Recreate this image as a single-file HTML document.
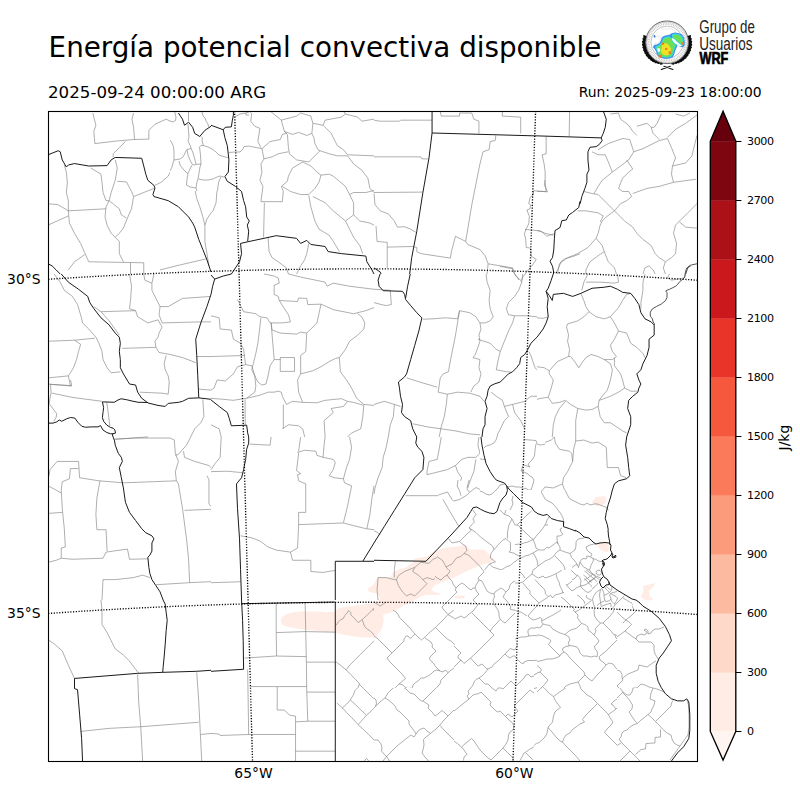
<!DOCTYPE html>
<html><head><meta charset="utf-8"><style>
html,body{margin:0;padding:0;background:#fff;}
svg{display:block;}
text{font-family:"DejaVu Sans","Liberation Sans",sans-serif;fill:#000;}
.cbl{font-size:11.11px;letter-spacing:-0.45px;}
.tk{font-size:13.89px;}
</style></head><body>
<svg width="800" height="800" viewBox="0 0 800 800">
<rect width="800" height="800" fill="#fff"/>
<text x="48.6" y="56.9" style="font-size:27.78px">Energía potencial convectiva disponible</text>
<text x="48" y="97.8" style="font-size:16.67px">2025-09-24 00:00:00 ARG</text>
<text x="761.7" y="97.1" text-anchor="end" class="tk">Run: 2025-09-23 18:00:00</text>
<defs><mask id="dm" maskUnits="userSpaceOnUse" x="0" y="0" width="800" height="800"><rect x="0" y="0" width="800" height="800" fill="#fff"/><rect x="515.0" y="490.0" width="80.0" height="80.0" fill="#000"/><rect x="515.0" y="570.0" width="80.0" height="80.0" fill="#000"/><rect x="435.0" y="570.0" width="80.0" height="80.0" fill="#000"/><rect x="572.0" y="555.0" width="40.0" height="40.0" fill="#000"/><rect x="592.0" y="582.0" width="40.0" height="40.0" fill="#000"/><rect x="537.0" y="610.0" width="80.0" height="80.0" fill="#000"/><rect x="617.0" y="610.0" width="80.0" height="80.0" fill="#000"/><rect x="537.0" y="688.0" width="80.0" height="74.0" fill="#000"/><rect x="617.0" y="688.0" width="80.0" height="74.0" fill="#000"/><rect x="374.0" y="610.0" width="80.0" height="80.0" fill="#000"/><rect x="374.0" y="688.0" width="80.0" height="74.0" fill="#000"/><rect x="454.0" y="645.0" width="80.0" height="80.0" fill="#000"/><rect x="454.0" y="722.0" width="80.0" height="40.0" fill="#000"/><rect x="480.0" y="430.0" width="65.0" height="60.0" fill="#000"/><rect x="480.0" y="490.0" width="35.0" height="20.0" fill="#000"/><rect x="170.0" y="112.0" width="80.0" height="79.0" fill="#000"/><rect x="336.0" y="605.0" width="38.0" height="79.0" fill="#000"/><rect x="336.0" y="684.0" width="38.0" height="78.0" fill="#000"/></mask><mask id="rg0" maskUnits="userSpaceOnUse" x="0" y="0" width="800" height="800"><rect x="515.0" y="490.0" width="80.0" height="80.0" fill="#fff"/><rect x="515.0" y="570.0" width="80.0" height="80.0" fill="#000"/><rect x="435.0" y="570.0" width="80.0" height="80.0" fill="#000"/><rect x="572.0" y="555.0" width="40.0" height="40.0" fill="#000"/><rect x="592.0" y="582.0" width="40.0" height="40.0" fill="#000"/><rect x="537.0" y="610.0" width="80.0" height="80.0" fill="#000"/><rect x="617.0" y="610.0" width="80.0" height="80.0" fill="#000"/><rect x="537.0" y="688.0" width="80.0" height="74.0" fill="#000"/><rect x="617.0" y="688.0" width="80.0" height="74.0" fill="#000"/><rect x="374.0" y="610.0" width="80.0" height="80.0" fill="#000"/><rect x="374.0" y="688.0" width="80.0" height="74.0" fill="#000"/><rect x="454.0" y="645.0" width="80.0" height="80.0" fill="#000"/><rect x="454.0" y="722.0" width="80.0" height="40.0" fill="#000"/><rect x="480.0" y="430.0" width="65.0" height="60.0" fill="#000"/><rect x="480.0" y="490.0" width="35.0" height="20.0" fill="#000"/><rect x="170.0" y="112.0" width="80.0" height="79.0" fill="#000"/><rect x="336.0" y="605.0" width="38.0" height="79.0" fill="#000"/><rect x="336.0" y="684.0" width="38.0" height="78.0" fill="#000"/></mask><mask id="rg1" maskUnits="userSpaceOnUse" x="0" y="0" width="800" height="800"><rect x="515.0" y="570.0" width="80.0" height="80.0" fill="#fff"/><rect x="435.0" y="570.0" width="80.0" height="80.0" fill="#000"/><rect x="572.0" y="555.0" width="40.0" height="40.0" fill="#000"/><rect x="592.0" y="582.0" width="40.0" height="40.0" fill="#000"/><rect x="537.0" y="610.0" width="80.0" height="80.0" fill="#000"/><rect x="617.0" y="610.0" width="80.0" height="80.0" fill="#000"/><rect x="537.0" y="688.0" width="80.0" height="74.0" fill="#000"/><rect x="617.0" y="688.0" width="80.0" height="74.0" fill="#000"/><rect x="374.0" y="610.0" width="80.0" height="80.0" fill="#000"/><rect x="374.0" y="688.0" width="80.0" height="74.0" fill="#000"/><rect x="454.0" y="645.0" width="80.0" height="80.0" fill="#000"/><rect x="454.0" y="722.0" width="80.0" height="40.0" fill="#000"/><rect x="480.0" y="430.0" width="65.0" height="60.0" fill="#000"/><rect x="480.0" y="490.0" width="35.0" height="20.0" fill="#000"/><rect x="170.0" y="112.0" width="80.0" height="79.0" fill="#000"/><rect x="336.0" y="605.0" width="38.0" height="79.0" fill="#000"/><rect x="336.0" y="684.0" width="38.0" height="78.0" fill="#000"/></mask><mask id="rg2" maskUnits="userSpaceOnUse" x="0" y="0" width="800" height="800"><rect x="435.0" y="570.0" width="80.0" height="80.0" fill="#fff"/><rect x="572.0" y="555.0" width="40.0" height="40.0" fill="#000"/><rect x="592.0" y="582.0" width="40.0" height="40.0" fill="#000"/><rect x="537.0" y="610.0" width="80.0" height="80.0" fill="#000"/><rect x="617.0" y="610.0" width="80.0" height="80.0" fill="#000"/><rect x="537.0" y="688.0" width="80.0" height="74.0" fill="#000"/><rect x="617.0" y="688.0" width="80.0" height="74.0" fill="#000"/><rect x="374.0" y="610.0" width="80.0" height="80.0" fill="#000"/><rect x="374.0" y="688.0" width="80.0" height="74.0" fill="#000"/><rect x="454.0" y="645.0" width="80.0" height="80.0" fill="#000"/><rect x="454.0" y="722.0" width="80.0" height="40.0" fill="#000"/><rect x="480.0" y="430.0" width="65.0" height="60.0" fill="#000"/><rect x="480.0" y="490.0" width="35.0" height="20.0" fill="#000"/><rect x="170.0" y="112.0" width="80.0" height="79.0" fill="#000"/><rect x="336.0" y="605.0" width="38.0" height="79.0" fill="#000"/><rect x="336.0" y="684.0" width="38.0" height="78.0" fill="#000"/></mask><mask id="rg3" maskUnits="userSpaceOnUse" x="0" y="0" width="800" height="800"><rect x="572.0" y="555.0" width="40.0" height="40.0" fill="#fff"/><rect x="592.0" y="582.0" width="40.0" height="40.0" fill="#000"/><rect x="537.0" y="610.0" width="80.0" height="80.0" fill="#000"/><rect x="617.0" y="610.0" width="80.0" height="80.0" fill="#000"/><rect x="537.0" y="688.0" width="80.0" height="74.0" fill="#000"/><rect x="617.0" y="688.0" width="80.0" height="74.0" fill="#000"/><rect x="374.0" y="610.0" width="80.0" height="80.0" fill="#000"/><rect x="374.0" y="688.0" width="80.0" height="74.0" fill="#000"/><rect x="454.0" y="645.0" width="80.0" height="80.0" fill="#000"/><rect x="454.0" y="722.0" width="80.0" height="40.0" fill="#000"/><rect x="480.0" y="430.0" width="65.0" height="60.0" fill="#000"/><rect x="480.0" y="490.0" width="35.0" height="20.0" fill="#000"/><rect x="170.0" y="112.0" width="80.0" height="79.0" fill="#000"/><rect x="336.0" y="605.0" width="38.0" height="79.0" fill="#000"/><rect x="336.0" y="684.0" width="38.0" height="78.0" fill="#000"/></mask><mask id="rg4" maskUnits="userSpaceOnUse" x="0" y="0" width="800" height="800"><rect x="592.0" y="582.0" width="40.0" height="40.0" fill="#fff"/><rect x="537.0" y="610.0" width="80.0" height="80.0" fill="#000"/><rect x="617.0" y="610.0" width="80.0" height="80.0" fill="#000"/><rect x="537.0" y="688.0" width="80.0" height="74.0" fill="#000"/><rect x="617.0" y="688.0" width="80.0" height="74.0" fill="#000"/><rect x="374.0" y="610.0" width="80.0" height="80.0" fill="#000"/><rect x="374.0" y="688.0" width="80.0" height="74.0" fill="#000"/><rect x="454.0" y="645.0" width="80.0" height="80.0" fill="#000"/><rect x="454.0" y="722.0" width="80.0" height="40.0" fill="#000"/><rect x="480.0" y="430.0" width="65.0" height="60.0" fill="#000"/><rect x="480.0" y="490.0" width="35.0" height="20.0" fill="#000"/><rect x="170.0" y="112.0" width="80.0" height="79.0" fill="#000"/><rect x="336.0" y="605.0" width="38.0" height="79.0" fill="#000"/><rect x="336.0" y="684.0" width="38.0" height="78.0" fill="#000"/></mask><mask id="rg5" maskUnits="userSpaceOnUse" x="0" y="0" width="800" height="800"><rect x="537.0" y="610.0" width="80.0" height="80.0" fill="#fff"/><rect x="617.0" y="610.0" width="80.0" height="80.0" fill="#000"/><rect x="537.0" y="688.0" width="80.0" height="74.0" fill="#000"/><rect x="617.0" y="688.0" width="80.0" height="74.0" fill="#000"/><rect x="374.0" y="610.0" width="80.0" height="80.0" fill="#000"/><rect x="374.0" y="688.0" width="80.0" height="74.0" fill="#000"/><rect x="454.0" y="645.0" width="80.0" height="80.0" fill="#000"/><rect x="454.0" y="722.0" width="80.0" height="40.0" fill="#000"/><rect x="480.0" y="430.0" width="65.0" height="60.0" fill="#000"/><rect x="480.0" y="490.0" width="35.0" height="20.0" fill="#000"/><rect x="170.0" y="112.0" width="80.0" height="79.0" fill="#000"/><rect x="336.0" y="605.0" width="38.0" height="79.0" fill="#000"/><rect x="336.0" y="684.0" width="38.0" height="78.0" fill="#000"/></mask><mask id="rg6" maskUnits="userSpaceOnUse" x="0" y="0" width="800" height="800"><rect x="617.0" y="610.0" width="80.0" height="80.0" fill="#fff"/><rect x="537.0" y="688.0" width="80.0" height="74.0" fill="#000"/><rect x="617.0" y="688.0" width="80.0" height="74.0" fill="#000"/><rect x="374.0" y="610.0" width="80.0" height="80.0" fill="#000"/><rect x="374.0" y="688.0" width="80.0" height="74.0" fill="#000"/><rect x="454.0" y="645.0" width="80.0" height="80.0" fill="#000"/><rect x="454.0" y="722.0" width="80.0" height="40.0" fill="#000"/><rect x="480.0" y="430.0" width="65.0" height="60.0" fill="#000"/><rect x="480.0" y="490.0" width="35.0" height="20.0" fill="#000"/><rect x="170.0" y="112.0" width="80.0" height="79.0" fill="#000"/><rect x="336.0" y="605.0" width="38.0" height="79.0" fill="#000"/><rect x="336.0" y="684.0" width="38.0" height="78.0" fill="#000"/></mask><mask id="rg7" maskUnits="userSpaceOnUse" x="0" y="0" width="800" height="800"><rect x="537.0" y="688.0" width="80.0" height="74.0" fill="#fff"/><rect x="617.0" y="688.0" width="80.0" height="74.0" fill="#000"/><rect x="374.0" y="610.0" width="80.0" height="80.0" fill="#000"/><rect x="374.0" y="688.0" width="80.0" height="74.0" fill="#000"/><rect x="454.0" y="645.0" width="80.0" height="80.0" fill="#000"/><rect x="454.0" y="722.0" width="80.0" height="40.0" fill="#000"/><rect x="480.0" y="430.0" width="65.0" height="60.0" fill="#000"/><rect x="480.0" y="490.0" width="35.0" height="20.0" fill="#000"/><rect x="170.0" y="112.0" width="80.0" height="79.0" fill="#000"/><rect x="336.0" y="605.0" width="38.0" height="79.0" fill="#000"/><rect x="336.0" y="684.0" width="38.0" height="78.0" fill="#000"/></mask><mask id="rg8" maskUnits="userSpaceOnUse" x="0" y="0" width="800" height="800"><rect x="617.0" y="688.0" width="80.0" height="74.0" fill="#fff"/><rect x="374.0" y="610.0" width="80.0" height="80.0" fill="#000"/><rect x="374.0" y="688.0" width="80.0" height="74.0" fill="#000"/><rect x="454.0" y="645.0" width="80.0" height="80.0" fill="#000"/><rect x="454.0" y="722.0" width="80.0" height="40.0" fill="#000"/><rect x="480.0" y="430.0" width="65.0" height="60.0" fill="#000"/><rect x="480.0" y="490.0" width="35.0" height="20.0" fill="#000"/><rect x="170.0" y="112.0" width="80.0" height="79.0" fill="#000"/><rect x="336.0" y="605.0" width="38.0" height="79.0" fill="#000"/><rect x="336.0" y="684.0" width="38.0" height="78.0" fill="#000"/></mask><mask id="rg9" maskUnits="userSpaceOnUse" x="0" y="0" width="800" height="800"><rect x="374.0" y="610.0" width="80.0" height="80.0" fill="#fff"/><rect x="374.0" y="688.0" width="80.0" height="74.0" fill="#000"/><rect x="454.0" y="645.0" width="80.0" height="80.0" fill="#000"/><rect x="454.0" y="722.0" width="80.0" height="40.0" fill="#000"/><rect x="480.0" y="430.0" width="65.0" height="60.0" fill="#000"/><rect x="480.0" y="490.0" width="35.0" height="20.0" fill="#000"/><rect x="170.0" y="112.0" width="80.0" height="79.0" fill="#000"/><rect x="336.0" y="605.0" width="38.0" height="79.0" fill="#000"/><rect x="336.0" y="684.0" width="38.0" height="78.0" fill="#000"/></mask><mask id="rg10" maskUnits="userSpaceOnUse" x="0" y="0" width="800" height="800"><rect x="374.0" y="688.0" width="80.0" height="74.0" fill="#fff"/><rect x="454.0" y="645.0" width="80.0" height="80.0" fill="#000"/><rect x="454.0" y="722.0" width="80.0" height="40.0" fill="#000"/><rect x="480.0" y="430.0" width="65.0" height="60.0" fill="#000"/><rect x="480.0" y="490.0" width="35.0" height="20.0" fill="#000"/><rect x="170.0" y="112.0" width="80.0" height="79.0" fill="#000"/><rect x="336.0" y="605.0" width="38.0" height="79.0" fill="#000"/><rect x="336.0" y="684.0" width="38.0" height="78.0" fill="#000"/></mask><mask id="rg11" maskUnits="userSpaceOnUse" x="0" y="0" width="800" height="800"><rect x="454.0" y="645.0" width="80.0" height="80.0" fill="#fff"/><rect x="454.0" y="722.0" width="80.0" height="40.0" fill="#000"/><rect x="480.0" y="430.0" width="65.0" height="60.0" fill="#000"/><rect x="480.0" y="490.0" width="35.0" height="20.0" fill="#000"/><rect x="170.0" y="112.0" width="80.0" height="79.0" fill="#000"/><rect x="336.0" y="605.0" width="38.0" height="79.0" fill="#000"/><rect x="336.0" y="684.0" width="38.0" height="78.0" fill="#000"/></mask><mask id="rg12" maskUnits="userSpaceOnUse" x="0" y="0" width="800" height="800"><rect x="454.0" y="722.0" width="80.0" height="40.0" fill="#fff"/><rect x="480.0" y="430.0" width="65.0" height="60.0" fill="#000"/><rect x="480.0" y="490.0" width="35.0" height="20.0" fill="#000"/><rect x="170.0" y="112.0" width="80.0" height="79.0" fill="#000"/><rect x="336.0" y="605.0" width="38.0" height="79.0" fill="#000"/><rect x="336.0" y="684.0" width="38.0" height="78.0" fill="#000"/></mask><mask id="rg13" maskUnits="userSpaceOnUse" x="0" y="0" width="800" height="800"><rect x="480.0" y="430.0" width="65.0" height="60.0" fill="#fff"/><rect x="480.0" y="490.0" width="35.0" height="20.0" fill="#000"/><rect x="170.0" y="112.0" width="80.0" height="79.0" fill="#000"/><rect x="336.0" y="605.0" width="38.0" height="79.0" fill="#000"/><rect x="336.0" y="684.0" width="38.0" height="78.0" fill="#000"/></mask><mask id="rg14" maskUnits="userSpaceOnUse" x="0" y="0" width="800" height="800"><rect x="480.0" y="490.0" width="35.0" height="20.0" fill="#fff"/><rect x="170.0" y="112.0" width="80.0" height="79.0" fill="#000"/><rect x="336.0" y="605.0" width="38.0" height="79.0" fill="#000"/><rect x="336.0" y="684.0" width="38.0" height="78.0" fill="#000"/></mask><mask id="rg15" maskUnits="userSpaceOnUse" x="0" y="0" width="800" height="800"><rect x="170.0" y="112.0" width="80.0" height="79.0" fill="#fff"/><rect x="336.0" y="605.0" width="38.0" height="79.0" fill="#000"/><rect x="336.0" y="684.0" width="38.0" height="78.0" fill="#000"/></mask><mask id="rg16" maskUnits="userSpaceOnUse" x="0" y="0" width="800" height="800"><rect x="336.0" y="605.0" width="38.0" height="79.0" fill="#fff"/><rect x="336.0" y="684.0" width="38.0" height="78.0" fill="#000"/></mask><mask id="rg17" maskUnits="userSpaceOnUse" x="0" y="0" width="800" height="800"><rect x="336.0" y="684.0" width="38.0" height="78.0" fill="#fff"/></mask><clipPath id="ax"><rect x="48.5" y="111.5" width="649.0" height="650.0"/></clipPath></defs>
<g clip-path="url(#ax)">
<path d="M280.6,622.1 L281.4,618 L286.2,613.9 L292.7,612.3 L302.5,611.5 L318.7,611.5 L325.2,612.3 L335,611.5 L338.2,608.2 L348,606.6 L361,605 L370.7,603.4 L377.2,602.6 L380.5,598.5 L377.2,593.6 L369.1,592 L367.5,588.7 L374,583.9 L377.2,577.4 L390,577.4 L393.2,572.2 L399.7,569 L406.2,567.4 L412.7,562.5 L414.4,558.4 L425.7,556.8 L435.5,551.1 L443.6,547.9 L459.9,546.2 L464.7,544.6 L469.6,549.5 L484.2,549.5 L489.1,554.4 L494,559.2 L490.7,562.5 L484.2,564.1 L477.7,566.6 L468,570.6 L458.2,575.5 L451.7,578.7 L442,582 L433.9,586.1 L431.4,590.1 L435.5,592.6 L440.4,593.4 L438.7,595 L425.7,595 L420.9,596.6 L414.4,599.9 L406.2,603.9 L399.7,608 L393.2,611.2 L390,612.9 L382.9,614.7 L383.7,621.2 L382.1,627.7 L380.5,631 L375.6,637.5 L361,637.5 L351.2,635.9 L341.5,634.2 L335,632.6 L318.7,631 L302.5,629.4 L291.1,627.7 L283,625.3Z M455,595.8 L464.7,595.6 L464.7,598.4 L455,598.4Z M592,502.2 L596.1,497.1 L605.3,496.1 L606.3,502.2 L602.2,505.3 L596.1,506.3Z M597.1,540.9 L606.3,541.9 L609.3,547 L608.3,552.1 L602.2,551.1 L598.1,547Z M643,586 L655,583 L654,586 L649,591 L649.5,596 L653,599 L651,600.5 L645,600 L641,597 L642,594 L643.5,591Z" fill="#ffede5" stroke="none"/>
<path d="M92.82,113.04 L93.84,117.11 L95.88,125.26 L93.84,131.37 L94.86,143.6 M94.86,143.6 L115.24,141.15 L133.57,139.52 L148.86,139.12 M133.57,113.04 L131.94,119.15 L133.57,127.3 L134.59,139.52 M148.86,139.12 L148.86,130.36 L154.97,124.24 L166.17,119.15 L170.25,121.19 L176.36,119.15 L174.32,113.04 M125.42,141.56 L119.31,147.67 L113.2,153.79 L113.2,157.45 M170.25,121.19 L172.29,131.37 L170.25,137.49 L172.29,145.64 L173.31,151.75 L174.32,159.9 L172.29,168.05 L168.21,176.2 L161.08,182.31 L154.97,185.37 M174.32,159.9 L180.44,158.88 L186.55,151.75 L190.62,148.69 M178.4,160.92 L182.47,168.05 L186.55,172.12 L190.62,170.09 M188.59,123.22 L190.62,137.49 L191.64,147.67 L193.68,155.82 L194.7,166.01 M198.77,137.49 L199.79,145.64 L200.81,147.67 L211,145.64 M194.7,166.01 L200.81,164.99 L199.79,172.12 L197.76,180.27 L202.85,178.24 L211,181.29 M188.59,174.16 L187.57,186.39 L194.7,188.42 L196.74,180.27 M194.7,188.42 L196.74,198.61 L199.79,206.76 L202.85,216.95 L204.89,225.1 L204.89,241.4 L208.96,265.85 M211,212.87 L206.92,218.99 L204.89,225.1 M90.79,168.05 L100.97,174.16 L101.99,182.31 L103.01,192.5 L106.07,200.65 L109.12,200.65 M115.24,159.9 L117.27,168.05 L115.24,180.27 L111.16,192.5 L109.12,200.65 L106.07,206.76 L105.05,216.95 L107.09,225.1 L111.16,233.25 L115.24,237.32 L119.31,241.4 L119.31,253.62 L123.39,261.77 M117.27,181.29 L126.44,181.9 L131.54,191.48 L133.57,196.57 L131.54,208.8 L127.46,217.97 L123.39,228.16 L119.31,233.25 L115.24,237.32 M133.57,196.57 L153.95,188.42 M109.12,200.65 L119.31,208.8 L121.35,214.91 L126.44,217.97 M64.3,164.99 L66.34,172.12 L67.36,182.31 L66.34,192.5 L68.37,200.65 L68.37,210.84 L69.39,223.06 L74.49,233.25 L80.6,243.44 L88.75,261.77 L143.76,262.79 M68.37,210.84 L106.07,208.8 M48,203.71 L58.19,204.72 L68.37,210.84 M48,225.1 L68.37,215.93 M84.67,254.64 L74.49,261.77 L68.37,269.92 M130.52,262.79 L130.52,274 M143.76,262.79 L143.76,274 M160.06,269.92 L180.44,264.83 L206.92,258.72 M233.41,115.07 L241.56,114.06 L249.71,113.04 L251.75,111 M251.75,113.04 L250.73,121.19 L254.81,126.28 L259.9,128.32 L257.86,141.56 L260.92,147.67 M270.09,111 L281.29,120.17 L284.35,131.37 L287.41,134.43 L288.42,147.67 L289.44,153.79 L296.57,159.9 L308.8,161.94 M281.29,120.17 L296.57,116.09 L300.65,113.04 L310.84,116.09 L312.87,123.22 L311.86,133.41 L313.89,137.49 L314.91,143.6 L317.97,149.71 L320.01,150.73 M284.35,131.37 L292.5,134.43 L298.61,132.39 L306.76,135.45 L311.86,133.41 M312.87,123.22 L323.06,125.26 L325.1,120.17 L341.4,117.11 L345.47,114.06 L343.44,111 M345.47,114.06 L357.7,117.11 L361.77,121.19 L374,119.15 M323.06,125.26 L331.21,133.41 L337.32,145.64 L343.44,149.71 L347.51,154.81 L374,155.82 M229.34,151.75 L243.6,146.66 L251.75,146.66 L261.94,148.69 L270.09,141.56 L280.27,139.52 L282.31,134.43 L286.39,133.41 M261.94,148.69 L263.97,158.88 L272.12,156.84 L278.24,153.79 L288.42,151.75 M263.97,158.88 L260.92,163.97 L261.94,172.12 L259.9,180.27 L262.96,186.39 L260.92,201.67 L282.31,201.67 L283.33,191.48 L281.29,186.39 L287.41,181.29 L288.42,176.2 L292.5,168.05 L302.69,161.94 L310.84,166.01 L316.95,172.12 L321.02,175.18 L318.99,182.31 L314.91,188.42 L308.8,194.54 L300.65,194.54 L290.46,191.48 L282.31,186.39 M308.8,161.94 L320.01,150.73 L329.17,153.79 L337.32,155.82 L347.51,155.82 M321.02,175.18 L329.17,174.16 L333.25,176.2 L339.36,181.29 L345.47,186.39 L349.55,194.54 L353.62,192.5 L365.85,192.5 L374,190.46 M347.51,155.82 L353.62,163.97 L361.77,170.09 L367.89,178.24 L369.92,188.42 L374,192.5 M349.55,194.54 L353.62,202.69 L353.62,214.91 L359.74,221.02 L369.92,223.06 L374,225.1 M353.62,214.91 L345.47,221.02 M308.8,195.56 L310.84,206.76 L314.91,221.02 L318.99,229.17 L329.17,235.29 L333.25,241.4 L339.36,251.59 M312.87,196.57 L325.1,202.69 L333.25,210.84 L345.47,221.02 L349.55,229.17 L353.62,237.32 L359.74,245.47 L362.79,253.62 M268.05,237.32 L269.07,251.59 L272.12,257.7 L278.24,261.77 L286.39,267.89 L288.42,274 M308.8,243.44 L306.76,253.62 L304.72,259.74 L300.65,265.85 L296.57,274 M264.38,202.69 L263.57,237.32 M211,148.69 L219.15,152.77 L228.93,157.86 M211,180.27 L217.11,178.24 L224.85,176.61 M219.15,178.24 L217.11,188.42 L216.09,202.69 L213.04,210.84 L211,212.87 M374,120.17 L380.11,121.19 L399.47,121.19 L400.49,120.17 L432.07,120.17 M440.22,111 L441.24,116.09 L459.57,116.09 L459.57,113.04 L471.8,113.04 L473.84,119.15 L478.93,121.19 L478.93,133.41 M502.36,111 L502.36,116.09 L520.7,117.11 L520.7,133.41 M374,156.84 L420.86,156.84 L421.88,158.88 L427.99,158.88 M374,192.5 L422.9,192.09 M374,193.52 L375.02,204.72 L380.11,210.84 L388.26,213.89 L394.37,221.02 L397.43,227.14 L404.56,226.73 L410.67,229.17 L415.77,232.23 M376.04,226.12 L377.06,241.4 L387.24,242.42 L387.24,267.89 M387.24,247.1 L412.71,246.49 L416.79,247.51 L416.79,251.59 L420.86,253.62 L450.41,258.11 L451.42,251.59 L455.5,236.31 L465.69,241.4 L467.72,244.46 L479.95,249.55 L485.04,255.66 L488.1,263.81 L500.32,265.85 L512.55,267.89 L514.59,274 M465.69,241.4 L471.8,204.72 L479.95,163.97 L483.01,151.75 L489.12,149.71 L490.14,141.56 L495.23,140.54 L495.84,135.45 M488.1,263.81 L487.08,274 M545,180 L544.38,185 L547.5,191.88 L533.75,190.62 L533.12,195 L530,197.5 L528.75,203.75 L530.62,205 L530,208.75 L526.88,210 L529.38,216.25 L528.75,223.75 L526.25,228.75 L524.38,233.75 L525.62,238.75 L526.25,247.5 L530.62,248.12 L531.25,256.25 L536.25,259.38 L532.5,265 L528.12,270 L522.5,277.5 L521.88,280 M525,229.38 L532.5,230 L541.25,231.25 L546.88,236.25 L550,235 L554.38,233.75 M580,253.75 L573.75,256.25 L565,258.75 L561.25,261.25 L558.75,267.5 L556.25,272.5 M500,266.25 L512.5,268.75 L513.75,272.5 L517.5,277.5 L518.75,280 M569.6,111 L569.19,136.47 M546.17,136.47 L546.17,153.79 L542.09,154.81 L544.13,163.97 L545.15,172.12 L545.15,182.31 L546.17,191.48 L537,191.48 M610.35,114.06 L618.5,113.04 L620.54,119.15 L628.69,125.26 L632.76,131.37 L636.84,135.45 M636.84,126.28 L647.02,123.22 L651.1,127.3 L654.16,127.3 L657.21,123.22 L661.29,114.06 M651.1,127.3 L653.14,133.41 L657.21,137.49 L659.25,139.52 M675.55,114.06 L683.7,116.09 L689.81,113.04 M667.4,137.49 L675.55,129.34 L685.74,123.22 L696.94,115.07 M592.01,151.75 L598.12,154.81 L605.26,154.81 L608.31,161.94 L612.39,172.12 L602.2,180.27 L598.12,186.39 L594.05,193.52 M598.12,149.71 L608.31,143.6 L622.57,138.51 L629.71,139.52 L633.78,151.75 L642.95,148.69 L659.25,140.54 L667.4,138.51 L671.47,147.67 L675.55,157.86 L672.49,166.01 L671.47,174.16 L673.51,182.31 M633.78,151.75 L628.69,159.9 L620.54,166.01 L612.39,172.12 M626.65,159.9 L632.76,169.07 L628.69,172.12 L622.57,178.24 L618.5,188.42 L622.57,191.48 L628.69,191.48 L631.74,196.57 L626.65,200.65 L620.54,203.71 L614.42,210.84 L606.27,216.95 L602.2,221.02 L600.16,225.1 L598.12,233.25 L596.09,238.34 L587.94,247.51 L577.75,253.62 L567.56,257.7 L559.41,263.81 L557.37,274 M632.76,193.52 L647.02,188.42 L659.25,186.39 L673.51,182.31 L695.92,179.26 M583.86,191.48 L592.01,193.52 L598.12,194.54 L606.27,202.69 L614.42,210.84 L624.61,221.02 L632.76,227.14 L636.84,233.25 L642.95,239.36 L651.1,245.47 L655.17,253.62 L659.25,257.7 L665.36,261.77 L663.32,267.89 L665.36,274 M577.75,210.84 L585.9,210.84 L598.12,212.87 L603.22,215.93 L600.16,222.04 M672.49,166.01 L685.74,162.96 L691.85,155.82 L694.91,143.6 L696.94,135.45 M696.94,203.71 L687.77,212.87 L679.62,221.02 L675.55,225.1 L673.51,233.25 L676.57,243.44 L675.55,253.62 L671.47,257.7 L665.36,261.77 M679.62,222.04 L685.74,227.14 L696.94,228.16 M596.09,238.34 L602.2,245.47 L604.24,251.59 L598.12,255.66 L589.97,261.77 L585.9,269.92 L585.9,274 M604.24,251.59 L608.31,261.77 L614.42,267.89 L616.46,274 M537,230.19 L545.15,233.25 L553.3,235.29 M642.95,274 L644.99,267.89 L649.06,265.85 L653.14,269.92 L655.17,274 M54.11,274 L60.22,282.15 L64.3,290.3 L72.45,296.41 L77.54,304.56 L80.6,314.75 L82.64,322.9 L88.75,329.01 L95.88,337.16 L98.94,343.27 L101.99,351.42 L103.01,359.57 L107.09,367.72 L111.16,372.82 L120.33,371.8 M93.84,306.6 L100.97,311.69 L109.12,320.86 L119.31,335.12 M100.97,311.69 L135.61,310.67 L137.65,316.79 L147.84,322.9 L158.02,319.84 L162.1,326.97 L159.04,333.09 L158.02,337.16 L154.97,341.24 L155.99,347.35 L159.04,352.44 L170.25,354.48 L182.47,357.54 L195.72,362.63 M129.5,274 L131.54,286.22 L130.52,300.49 L129.5,308.64 L135.61,310.67 M143.76,274 L144.78,280.11 L151.91,283.17 L153.95,274 M151.91,283.17 L151.91,290.3 L155.99,298.45 L160.06,306.6 L159.04,314.75 L162.1,322.9 L200.81,321.88 L211,321.88 M160.06,306.6 L168.21,306.6 L182.47,298.45 L211,296.41 M48,341.24 L74.49,340.22 L94.86,338.18 M74.49,340.22 L80.6,344.29 L78.56,351.42 L76.52,359.57 L73.47,367.72 L68.37,375.87 L70.41,386.06 M48,377.91 L68.37,375.87 M48,384.02 L60.22,385.04 L71.43,386.06 M122.37,348.37 L155.99,347.35 M166.17,355.5 L164.14,363.65 L165.16,369.76 L168.21,375.87 L169.23,381.99 L168.21,394.21 L162.1,393.19 L139.69,392.17 M196.74,356.52 L211,356.52 M198.77,389.12 L211,390.14 M202.85,399.31 L203.87,416.62 L200.81,422.74 L194.7,428.85 L190.62,437 M49.88,384.38 L71.75,385.62 L70.5,380 M50.5,385 L51.12,392.5 L49.88,398.75 L49.25,403.75 M51.75,393.12 L73,397.5 L101.75,401.25 M49.25,403.75 L53,408.75 L56.75,413.75 L56.12,417.5 L53.62,421.25 M106.75,402.5 L108,411.25 L109.25,421.25 L109.88,426.25 M114.25,439.38 L123,438.75 L148,436.88 M263.97,274 L274.16,276.04 L278.24,278.07 L279.26,283.17 L274.16,285.21 L274.16,294.37 L278.24,296.41 L279.26,300.49 L284.35,308.64 L288.42,314.75 L290.46,321.88 L282.31,322.9 L270.09,322.9 L267.03,317.81 L259.9,316.79 L255.82,313.73 L243.6,311.69 L239.52,303.54 L237.49,299.47 M288.42,274 L300.65,277.06 L325.1,282.15 L327.14,286.22 L333.25,283.17 L349.55,286.22 L374,289.28 M279.26,300.49 L297.59,301.51 L298.61,298.04 L306.76,298.45 L307.78,304.56 L321.02,304.15 L333.25,309.66 L353.62,313.73 L365.85,310.67 L374,307.62 M321.02,304.15 L316.95,322.9 L310.84,329.01 L306.76,333.09 L300.65,332.07 L296.57,334.11 L280.27,333.09 L272.12,330.03 L271.11,322.9 M271.11,322.9 L272.12,335.12 L274.16,359.57 L270.09,365.69 L268.05,375.87 L266.01,384.02 L261.94,385.04 L257.86,381.99 L254.81,375.87 L251.75,369.76 L253.79,361.61 L255.82,353.46 L257.86,343.27 L258.88,335.12 L260.92,317.81 M306.76,333.09 L305.74,351.42 L300.65,355.5 L300.65,373.84 L297.59,379.95 L298.61,392.17 L302.69,402.36 L292.5,401.34 L286.39,404.4 L282.31,396.25 L281.29,392.17 L278.24,391.16 L274.16,392.17 L268.05,392.17 L259.9,395.23 L246.66,398.29 M300.65,373.84 L312.87,370.78 L321.02,366.71 L329.17,361.61 L335.29,358.56 L339.36,357.54 L345.47,349.39 L349.55,341.24 L357.7,335.12 L363.81,329.01 L364.83,322.9 L361.77,316.79 L357.7,313.73 M339.36,357.54 L340.38,371.8 L346.49,379.95 L351.59,388.1 L356.68,398.29 L363.81,404.4 L374,405.42 M302.69,402.36 L316.95,402.77 L325.1,400.32 L341.4,398.69 L347.51,401.34 L353.62,402.36 L363.81,405.42 L362.79,416.62 L360.76,428.85 L351.59,432.92 L347.51,437 M280.27,357.54 L294.54,357.54 L294.54,371.39 L280.27,371.39 L280.27,357.54 M274.16,359.57 L280.27,359.57 M211,315.77 L219.15,317.81 L220.17,329.01 L231.37,330.03 L233.41,339.2 L240.54,343.27 L243.6,349.39 L244.62,357.54 L245.64,364.67 M211,356.52 L244.62,355.5 M245.64,364.67 L237.49,366.71 L233.41,373.84 L225.26,380.97 L217.11,379.95 L214.06,388.1 L211,390.14 M245.64,364.67 L251.75,365.69 L254.81,375.87 L255.82,386.06 L254.81,392.17 L246.66,398.29 L243.6,398.69 M211,398.29 L223.22,399.31 L233.41,400.32 L243.6,398.69 M245.03,399.31 L245.23,424.77 M283.33,404.4 L283.33,428.85 M282.31,428.85 L288.42,424.77 L298.61,425.79 L302.69,428.85 L304.72,437 M325.1,437 L324.08,420.7 L333.25,412.55 L331.21,408.47 L343.44,406.44 L347.51,401.34 M211,424.77 L219.15,428.85 L221.19,437 M374,289.28 L390.3,290.3 L391.32,304.56 L386.22,305.58 L381.13,304.56 L374,302.52 M486.06,274 L487.08,282.15 L490.14,290.3 L489.12,300.49 L490.14,308.64 L493.19,316.79 L490.14,320.86 L485.04,322.9 L479.95,322.9 L475.87,316.79 L469.76,312.71 L459.57,310.67 L457.54,318.82 L445.31,317.81 L433.09,318.82 L422.9,319.23 M459.57,310.67 L455.5,335.12 L451.42,355.5 L448.37,371.8 L443.27,373.84 L440.22,377.91 L438.18,392.17 L447.35,394.21 L457.54,392.17 L469.76,393.19 L479.95,396.25 L484.02,401.34 M479.95,322.9 L480.97,329.01 L478.93,335.12 L479.95,341.24 L477.91,347.35 L474.86,355.5 L472.82,357.54 L479.95,359.57 L478.93,367.72 L480.97,373.84 L478.93,381.99 L473.84,386.06 L470.78,392.17 M477.91,339.2 L490.14,343.27 L496.25,349.39 L500.32,351.42 L504.4,341.24 L508.47,331.05 L512.55,322.9 L514.59,315.77 L508.47,314.75 L506.44,308.64 L508.47,302.52 L514.59,296.41 L518.66,290.3 L521.72,282.15 L522.74,274 M514.59,315.77 L526.81,315.77 L537,316.79 M500.32,351.42 L498.29,359.57 L496.25,369.76 L506.44,371.8 L510.51,371.8 M514.59,274 L516.62,277.06 L520.7,280.11 L521.72,282.15 M528.85,351.42 L530.89,355.5 L532.92,361.61 L534.96,367.72 L537,369.76 M406.6,377.91 L422.9,383.01 L437.16,387.08 M447.35,394.21 L446.33,404.4 L444.29,416.62 L441.24,426.81 L439.2,437 M374,404.4 L384.19,401.34 L394.37,404.4 L400.49,406.44 M394.37,404.4 L393.36,416.62 L390.3,424.77 L388.26,437 M412.71,423.76 L426.97,426.81 L441.24,428.85 L455.5,430.89 L469.76,433.94 L481.99,434.96 M491.16,392.17 L496.25,396.25 L502.36,400.32 L504.4,406.44 L512.55,404.4 L516.62,403.38 L524.77,401.34 L530.89,396.25 L537,396.25 M512.55,404.4 L514.59,412.55 L520.7,420.7 L524.77,428.85 M504.4,406.44 L508.47,416.62 L504.4,420.7 L500.32,428.85 L498.29,437 M537,317.81 L543.11,318.42 L548.21,316.79 M580.81,293.36 L583.86,300.49 L585.9,306.6 L588.96,311.69 L596.09,316.79 L604.24,318.82 L610.35,316.79 L618.5,307.62 L622.57,300.49 L626.65,294.37 L630.72,293.36 M588.96,311.69 L583.86,316.79 L577.75,320.86 L567.56,323.92 L566.54,326.97 L568.58,335.12 L567.56,341.24 L569.6,349.39 L568.58,356.52 L557.37,361.61 L549.22,370.78 L544.13,367.72 L537,366.71 M610.35,316.79 L614.42,322.9 L618.5,331.05 L614.42,339.2 L610.35,345.31 L612.39,351.42 L616.46,356.52 L612.39,359.57 L604.24,359.57 L598.12,356.52 L590.99,354.48 L585.9,357.54 L582.84,361.61 L578.77,367.72 L574.69,361.61 L570.62,356.52 L568.58,356.52 M618.5,331.05 L626.65,333.09 L630.72,343.27 L636.84,347.35 L642.95,353.46 L644.99,357.54 M604.24,359.57 L610.35,363.65 L612.39,369.76 L611.37,375.87 L609.33,384.02 L607.29,390.14 L602.2,396.25 L599.14,400.32 L598.12,406.44 L592.01,409.49 L585.9,410.1 L577.75,408.47 L570.62,404.4 L565.52,400.32 L559.41,402.36 L552.28,403.38 L548.21,397.27 L551.26,388.1 L553.3,379.95 L549.22,373.84 L549.22,370.78 M614.42,357.54 L614.42,365.69 L620.54,373.84 L622.57,379.95 L624.61,388.1 L630.72,391.16 L636.84,391.16 M624.61,388.1 L618.5,392.17 L610.35,396.25 L602.2,399.31 L599.14,400.32 M598.12,406.44 L600.16,416.62 L604.24,422.74 L610.35,422.74 L616.46,426.81 L622.57,430.89 L626.65,432.92 M577.75,408.47 L575.71,420.7 L575.71,437 M565.52,401.34 L559.41,408.47 L555.34,416.62 L553.3,424.77 L552.28,437 M548.21,397.27 L541.07,398.29 L537,399.31 M587.94,274 L583.86,282.15 L581.82,290.3 M585.9,282.15 L600.16,282.15 L614.42,283.17 L618.5,282.15 L617.48,274 M644.99,274 L642.95,282.15 L642.95,290.3 L640.91,302.52 L640.91,308.64 M669.44,274 L667.4,278.07 L671.47,280.11 L683.7,278.07 L685.74,274 M115.24,439.04 L135.61,438.02 L170.25,438.02 L174.32,440.06 L175.34,453.3 L178.4,461.45 L175.34,471.64 L176.36,480.81 L123.39,482.84 L98.94,480.81 L79.58,477.75 L78.56,461.45 L57.17,461.45 L50.04,469.6 L49.02,475.71 M190.62,437 L186.55,445.15 L178.4,454.32 L175.34,455.34 M183.49,451.26 L184.51,457.37 L194.7,461.45 L208.96,465.52 L211,467.56 M176.36,480.81 L178.4,483.86 L182.47,508.31 L186.55,538.87 L188.59,559.25 L189.61,582.68 L211,581.66 M184.51,510.35 L211,509.33 M155.99,584.72 L189.61,582.68 M78.56,468.58 L70.41,468.58 L69.39,478.77 L62.26,481.82 L61.24,489.97 L62.26,508.31 L64.3,528.69 L65.32,547.02 L61.24,548.04 L61.24,558.23 L72.45,559.25 L103.01,558.23 L106.07,552.12 L127.46,549.06 L129.5,559.25 L147.84,558.84 M99.96,480.81 L96.9,498.12 L95.88,514.42 L96.9,529.71 L106.07,529.71 L107.09,551.1 M48,485.9 L54.11,488.96 L61.24,493.03 M48,513.41 L62.26,512.39 M48,562.31 L56.15,560.27 L61.24,558.23 M101.99,600 L103.01,579.62 L115.24,579.62 L133.57,577.59 L142.74,575.14 L149.87,577.59 M206.92,475.71 L208.96,479.79 L208.96,504.24 L211,506.27 M221.19,437 L220.17,457.37 L215.07,463.49 L211,469.6 M211,471.64 L227.3,471.23 L242.58,472.66 M249.71,444.13 L270.09,445.15 L271.11,437 M240.54,535.82 L251.75,537.86 L259.9,540.91 L268.05,547.02 L276.2,550.08 L290.46,552.12 L292.5,560.27 L310.84,560.27 L310.84,571.47 L323.06,572.49 L328.16,571.47 L335.29,570.46 M290.46,552.12 L297.59,548.04 L298.61,524.61 L298.61,512.39 L305.74,512.39 L305.74,483.86 L298.61,480.81 L297.59,474.69 L300.65,473.67 L296.57,470.62 L298.61,453.3 L297.59,452.28 L304.72,450.24 L315.93,451.26 L316.95,455.34 L323.06,457.37 L324.08,445.15 L325.1,437 M300.65,437 L298.61,451.26 M323.06,457.37 L333.25,459.41 L335.29,462.47 L333.25,469.6 L329.17,475.71 L334.27,477.75 L343.44,478.77 L344.46,482.84 L351.59,485.9 L347.51,506.27 L343.44,522.57 M349.55,437 L351.59,447.19 L349.55,459.41 L346.49,467.56 L343.44,478.77 M298.61,524.61 L343.44,522.98 L353.62,525.63 L365.85,528.69 L374,529.71 M374,485.9 L371.96,498.12 L369.92,514.42 L366.87,528.69 M211,582.68 L231.37,582.07 L240.54,581.66 M388.26,437 L386.22,447.19 L383.17,457.37 L382.15,467.56 L378.07,477.75 L375.02,487.94 L374,494.05 M374,530.72 L378.07,532.76 L380.11,534.8 M441.24,437 L439.2,449.22 L437.16,459.41 L429.01,461.45 L426.97,471.64 L426.97,474.69 L435.12,472.66 L447.35,469.6 L455.5,465.52 L461.61,459.41 L467.72,457.37 L475.87,457.37 L479.95,453.3 L477.91,445.15 L478.93,437 M455.5,465.52 L457.54,471.64 L461.61,477.75 L460.59,480.81 M405.58,495.68 L438.38,495.68 M467.72,487.94 L469.76,481.82 L473.84,471.64 L475.87,459.41 M486.06,437 L488.1,445.15 L494.21,443.11 L496.25,437 M524.77,437 L537,441.07 M532.92,441.07 L532.92,453.3 L530.89,463.49 L528.85,467.56 M520.7,467.56 L524.77,471.64 L532.92,477.75 L534.96,483.86 L528.85,487.94 L524.77,487.94 L520.7,485.9 L508.47,485.9 M414.75,567.4 L404.56,571.47 L398.45,575.55 L396.41,579.62 L398.45,585.74 L402.52,591.85 L406.6,595.92 L410.67,593.89 L414.75,595.92 L418.82,591.85 L422.9,587.77 L426.97,583.7 L422.9,579.62 L418.82,575.55 L412.71,571.47 L414.75,567.4 L420.86,562.31 L429.01,563.32 L433.09,559.25 L436.96,557.62 M378.07,577.59 L386.22,577.59 L394.37,579.62 L396.41,579.62 M378.07,577.59 L377.06,589.81 L378.07,600 M395.39,561.29 L394.37,569.44 L394.37,577.59 M422.9,579.62 L426.97,577.59 L433.09,579.62 L436.96,577.59 M438.5,494.99 L447.49,491.99 L451.99,499.49 L453.49,500.99 L459.49,499.49 L466.99,494.99 L469.98,491.99 L475.98,487.5 L481.98,490.49 L489.47,494.99 L496.97,491.99 L499.97,487.5 L501.47,484.5 L504.47,483 M457.99,480 L457.24,486 L459.49,490.49 L460.99,495.74 M469.23,480 L467.73,484.5 L466.99,489 L469.23,491.99 M443,499.49 L448.99,509.99 L453.49,517.48 L457.99,524.98 L459.49,526.48 M472.98,509.99 L475.98,514.48 L472.98,518.98 L474.48,521.98 L471.48,524.98 L469.23,527.98 L471.48,530.22 L466.99,533.97 L463.99,536.97 L459.49,541.47 L451.99,542.97 L448.24,538.47 M469.23,527.98 L475.98,532.47 L480.48,536.97 L486.48,541.47 L492.47,545.97 L493.97,549.72 L490.97,553.46 L490.22,557.96 L495.47,561.71 L489.47,563.96 L492.47,566.96 L496.97,568.46 L501.47,569.96 L505.97,566.96 L510.46,565.46 L513.46,562.46 L517.96,559.46 L520.96,557.21 M493.97,549.72 L498.47,544.47 L502.97,539.97 L505.97,538.47 L510.46,542.97 L510.46,550.46 L508.96,551.96 L514.96,553.46 L520.96,553.46 L526.96,551.96 L532.95,550.46 L537,547.47 M499.97,509.99 L504.47,514.48 L508.96,515.98 L511.96,518.98 L508.96,524.98 L507.46,532.47 L507.46,538.47 M511.96,518.98 L514.96,524.98 L519.46,526.48 L522.46,529.48 L526.96,533.97 L531.45,538.47 L535.95,536.97 M511.96,497.99 L508.96,505.49 L505.97,509.99 L504.47,514.48 M526.96,511.48 L529.95,515.98 L525.46,520.48 L520.96,524.98 M529.95,557.96 L532.95,563.96 L535.95,569.96 L537,577.45 M437,556.46 L443,560.96 L446,566.96 L449.74,571.45 L443,577.45 L438.5,580.45 L437,578.95 M446,566.96 L451.99,563.96 L456.49,557.96 L460.99,556.46 L463.99,553.46 L468.48,554.96 L474.48,560.96 L480.48,566.96 L483.48,571.45 L478.98,577.45 L477.48,581.95 L475.98,584.95 L478.23,589.45 L475.98,593.94 L472.98,598.44 M463.99,553.46 L466.99,550.46 L465.49,545.97 L460.99,542.97 L459.49,541.47 M449.74,572.95 L453.49,581.95 L456.49,586.45 L455.74,592.44 L453.49,596.94 L451.99,599.94 M456.49,586.45 L463.99,581.95 L466.99,584.95 L471.48,587.95 L475.98,584.95 M483.48,571.45 L489.47,563.96 M478.98,577.45 L481.98,581.95 L484.98,584.95 L487.97,590.94 L490.97,593.94 L493.97,590.94 L496.97,587.95 L499.97,589.45 L502.97,592.44 L504.47,598.44 M501.47,569.96 L505.97,574.45 L510.46,578.95 L513.46,581.95 L514.96,586.45 L511.96,590.94 L510.46,595.44 L508.96,599.94 M513.46,581.95 L517.96,578.95 L522.46,575.95 L525.46,574.45 L529.95,575.95 L532.95,577.45 L535.95,580.45 M523.96,577.45 L526.96,581.95 L529.95,587.95 L532.95,593.94 L535.95,598.44 M520.96,557.21 L523.96,563.96 L526.96,569.96 L529.95,575.95 M537,445.15 L543.11,443.11 L551.26,440.06 L554.32,437 M554.32,437 L555.34,443.11 L559.41,449.22 L569.6,451.26 L571.64,453.3 L572.66,461.45 L567.56,471.64 L563.49,477.75 L562.47,483.86 L553.3,487.94 L545.15,486.92 L542.09,492.01 L545.15,496.09 L551.26,502.2 L557.37,508.31 L561.45,514.42 L563.49,521.56 M575.71,437 L575.71,441.07 L583.86,440.06 L592.01,443.11 L598.12,442.09 L606.27,447.19 L607.29,467.56 L618.5,467.56 L620.54,475.71 L626.65,477.75 M575.71,441.07 L573.67,449.22 L572.66,461.45 M562.47,483.86 L564.51,489.97 L567.56,496.09 L577.75,502.2 L585.9,504.24 L592.01,503.22 L598.12,504.24 L606.27,507.29 L608.31,510.35 M537,529.71 L543.11,526.65 L547.19,522.57 L549.22,518.5 M537,551.1 L545.15,547.02 L553.3,542.95 L560.02,539.89 M557.37,536.84 L559.41,544.99 L557.37,551.1 L553.3,559.25 L551.26,567.4 L545.15,575.55 L539.04,579.62 L537,581.66 M537,563.32 L547.19,561.29 L555.34,555.17 L560.02,554.16 M545.15,575.55 L549.22,583.7 L551.26,591.85 L553.3,600 M557.37,575.55 L560.02,579.62 M537,591.85 L545.15,587.77 L549.22,583.7 M560,534 L563,534.5 L562,532 M560,551 L566,552 L570,553.5 L575,551 L576,546 L578,539 L584,538 M570,553.5 L574,559 L577,564 L579,567 M560,561 L564,565 L568,568 L571,569 L575,565 L579,561 L581,559 L583,558 L586,557 L590,558 L594,560 L598,561 L602,561 M587,546 L592,545 L596,544 M587,546 L586,549 L588,552 L591,554 L593,555 L591,557 M579,561 L580,565 L579,568 L577,570 M560,569 L562,567 L564,565 M571,569 L574,573 L578,576 L580,579 L581,584 L580,588 L579,592 M568,568 L572,572 L575,575 L578,576 M560,586 L564,584 L568,582 L572,581 L576,579 L578,576 M566,584 L568,588 L570,591 L572,594 M560,592 L563,594 L566,595 L569,592 L573,590 L576,588 L580,588 M562,596 L566,600 L570,603 L573,606 L575,609 M572,594 L575,596 L579,599 L583,603 L585,606 L586,609 M584,571 L588,572 L592,574 L595,577 L597,580 L598,584 L599,588 M582,576 L586,576 L590,578 L593,581 L595,583 M581,584 L585,584 L589,585 L592,586 M580,588 L584,590 L588,591 L592,589 L596,588 L600,588 M585,594 L589,594 L592,595 L595,594 L598,590 L601,589 L604,588 M586,599 L590,600 L593,602 L594,606 L595,610 M592,595 L593,600 M598,590 L599,595 L600,600 L601,604 M604,588 L605,592 L606,596 L607,600 L608,604 M607,586 L610,590 L612,594 L614,598 L616,602 L617,606 M610,590 L614,592 L616,594 L618,596 M600,600 L604,599 L608,600 L612,599 L616,598 L620,596 L624,595 M616,602 L620,600 L624,599 L628,600 L630,602 L632,606 L634,610 M596,570 L598,571 L600,574 L599,576 L597,575 L596,572 L596,570 M585,572 L584,576 L583,579 M589,580 L590,584 L591,586 M592,580 L594,582 M100.97,600 L101.99,610.19 L101.99,624.45 L107.09,632.6 L111.16,640.75 L115.24,648.9 L123.39,655.01 L129.5,661.12 L135.61,669.27 L138.67,673.35 M48,639.73 L54.11,643.81 L62.26,650.94 L68.37,665.2 L74.49,678.44 M137.65,674.37 L138.67,701.87 L140.71,726.32 L142.74,763 M196.74,672.33 L198.77,701.87 L199.79,722.25 L201.83,763 M80.6,731.42 L109.12,728.36 L140.71,726.73 L198.77,722.25 M200.81,734.47 L211,733.46 M276.2,603.06 L276.2,632.6 L276.61,656.03 M305.13,603.06 L305.74,632.6 L306.35,661.12 L306.76,691.69 L307.78,721.23 M276.2,632.6 L305.74,631.58 L335.29,632.19 M244.62,658.07 L276.2,656.03 L306.35,656.64 M306.35,662.14 L335.29,662.14 M247.67,669.27 L248.69,734.47 M249.71,686.59 L277.22,686.59 L306.76,686.59 M306.76,692.09 L335.29,692.09 M277.22,686.59 L277.22,710.02 L284.35,710.02 L289.44,715.12 L295.56,716.14 L295.56,722.25 L295.56,763 M295.56,721.84 L307.78,721.23 L335.29,721.23 M295.56,751.18 L335.29,751.18 M211,733.46 L219.15,734.07 L220.17,735.49 L248.69,734.47 L295.56,734.47 M337.32,620.37 L349.55,611.21 L351.59,615.28 L361.77,621.39 L371.96,608.15 M361.77,621.39 L363.81,626.49 L371.96,632.6 M346.49,670.29 L353.62,663.16 L361.77,652.97 L374,640.75 M337.32,663.16 L345.47,671.31 L353.62,679.46 L359.74,685.57 L365.85,691.69 L374,699.84 M337.32,703.91 L343.44,707.99 L351.59,699.84 L353.62,693.72 L357.7,689.65 L359.74,685.57 M343.44,707.99 L357.7,724.29 L363.81,716.14 L367.89,710.02 M351.59,699.84 L365.85,714.1 M337.32,714.1 L349.55,724.29 L357.7,732.44 L365.85,740.59 L374,748.74 M363.81,760.96 L366.87,758.92 L369.92,760.96 M394.37,611.21 L421.88,639.73 M374,637.69 L390.3,653.99 L387.24,659.09 M387.24,659.09 L405.58,678.44 M405.58,678.44 L398.45,684.56 L386.22,695.76 L376.04,705.95 M387.24,659.09 L404.56,637.69 L406.6,635.66 L412.71,638.71 L421.88,639.73 M421.88,639.73 L425.96,637.69 L435.12,628.52 L448.37,615.28 M441.24,608.15 L448.37,615.28 L455.5,619.36 L463.65,616.3 L471.8,612.22 L475.87,606.11 L473.84,604.07 M435.12,628.52 L443.27,636.67 L451.42,640.75 L457.54,646.86 L460.59,653.99 L459.57,658.07 L463.65,662.14 M463.65,662.14 L493.19,635.66 M493.19,635.66 L471.8,613.24 M425.96,637.69 L433.09,646.86 L435.12,652.97 L430.03,659.09 L435.12,665.2 L441.24,670.29 L445.31,671.31 L447.35,670.29 M408.64,687.61 L412.71,683.54 L420.86,678.44 L426.97,675.39 L435.12,671.31 L441.24,670.29 M463.65,662.14 L455.5,667.24 L447.35,673.35 L435.12,683.54 L426.97,691.69 L423.92,699.84 M400.49,685.57 L408.64,689.65 L414.75,695.76 L423.92,700.86 M470.78,658.07 L479.95,665.2 L486.06,669.27 M486.06,669.27 L504.4,652.97 L514.59,646.86 M504.4,652.97 L508.47,657.05 L514.59,655.01 M486.06,669.27 L475.87,677.42 L467.72,685.57 L468.74,697.8 L447.35,716.14 L439.2,724.29 L429.01,732.44 M423.92,700.86 L429.01,705.95 L431.05,712.06 L437.16,716.14 L443.27,711.04 L447.35,716.14 M475.87,677.42 L479.95,681.5 L488.1,685.57 L496.25,689.65 L500.32,687.61 L506.44,689.65 L516.62,685.57 M467.72,689.65 L469.76,693.72 L475.87,691.69 L479.95,693.72 L490.14,703.91 L500.32,712.06 L508.47,716.14 L514.59,718.17 M514.59,718.17 L508.47,734.47 L510.51,742.62 L504.4,746.7 L496.25,752.81 L490.14,758.92 M439.2,726.32 L451.42,738.55 L461.61,748.74 L467.72,758.92 M386.22,699.84 L394.37,705.95 L400.49,714.1 L408.64,722.25 L414.75,732.44 L420.86,730.4 L429.01,732.44 M374,740.59 L382.15,742.62 L384.19,750.77 L388.26,758.92 M414.75,732.44 L400.49,742.62 L390.3,750.77 L386.22,760.96 M422.9,738.55 L423.92,746.7 L422.9,754.85 L424.94,760.96 M463.65,742.62 L471.8,738.55 L479.95,746.7 L488.1,750.77 L496.25,752.81 M506.44,750.77 L514.59,758.92 M516.62,636.67 L526.81,634.64 L537,636.67 M516.62,661.12 L524.77,659.09 L528.85,661.12 L537,660.11 M518.66,679.46 L524.77,675.39 L528.85,677.42 L537,673.35 M516.62,701.87 L524.77,695.76 L530.89,689.65 L537,687.61 M520.7,760.96 L528.85,750.77 L537,742.62 M498.29,612.22 L500.32,619.36 L504.4,621.39 L516.62,612.22 L528.85,612.22 L537,608.15 M500.32,619.36 L493.19,626.49 M374,602.04 L380.11,606.11 L386.22,602.04 M688.18,701.87 L688.18,714.1 L688.18,730.4 L687.37,738.55 L682.07,746.7 L675.96,752.81 L669.44,760.96 M537,618.34 L541.07,622.41 L543.11,626.49 L537,628.52 M543.11,620.37 L553.3,616.3 L563.49,612.22 L573.67,608.15 L577.75,604.07 L583.86,600 M543.11,626.49 L553.3,624.45 L563.49,630.56 L567.56,636.67 L577.75,628.52 L583.86,624.45 L592.01,630.56 L596.09,634.64 L598.12,640.75 L596.09,648.9 L600.16,657.05 M537,635.66 L545.15,637.69 L549.22,642.79 L547.19,646.86 L553.3,650.94 L561.45,652.97 L563.49,648.9 M563.49,648.9 L569.6,646.86 L575.71,648.9 L579.79,652.97 L585.9,656.03 L596.09,656.03 L600.16,658.07 L606.27,663.16 L612.39,665.2 L616.46,669.27 L620.54,675.39 L622.57,677.42 M567.56,636.67 L569.6,642.79 L563.49,648.9 M537,661.12 L549.22,659.09 L561.45,657.05 L563.49,652.97 M577.75,628.52 L579.79,622.41 L577.75,616.3 L575.71,608.15 M581.82,624.45 L594.05,620.37 L598.12,616.3 L596.09,608.15 M596.09,628.52 L604.24,622.41 L610.35,618.34 L618.5,614.26 L622.57,610.19 L626.65,608.15 L632.76,604.07 M604.24,622.41 L610.35,628.52 L616.46,634.64 L622.57,631.58 L630.72,626.49 L626.65,620.37 L622.57,618.34 M616.46,634.64 L614.42,640.75 L608.31,646.86 L602.2,652.97 L600.16,658.07 M622.57,631.58 L630.72,634.64 L638.87,640.75 L647.02,642.79 L653.14,644.82 L655.17,652.97 L657.21,657.05 M634.8,636.67 L638.87,632.6 L642.95,630.56 L647.02,632.6 L651.1,630.56 L659.25,628.52 L667.4,626.49 M608.31,663.16 L598.12,673.35 L592.01,679.46 L585.9,673.35 L583.86,669.27 L573.67,659.09 L565.52,652.97 M537,667.24 L541.07,671.31 L547.19,679.46 L537,685.57 M545.15,679.46 L553.3,683.54 L561.45,683.54 L571.64,681.5 L579.79,677.42 L585.9,673.35 M537,687.61 L543.11,687.61 L549.22,693.72 L555.34,697.8 L559.41,705.95 L555.34,714.1 L551.26,722.25 L547.19,730.4 L545.15,736.51 L541.07,740.59 L537,742.62 M555.34,695.76 L563.49,689.65 L569.6,685.57 L577.75,683.54 M577.75,683.54 L585.9,693.72 L594.05,701.87 L598.12,705.95 L604.24,712.06 L610.35,716.14 L614.42,722.25 L612.39,730.4 L606.27,732.44 L610.35,738.55 L616.46,744.66 L620.54,742.62 M598.12,705.95 L589.97,714.1 L583.86,720.21 L579.79,726.32 L571.64,730.4 L567.56,734.47 L563.49,740.59 M563.49,740.59 L557.37,734.47 L553.3,730.4 L549.22,728.36 M549.22,728.36 L559.41,740.59 L567.56,748.74 L575.71,756.89 L579.79,760.96 M622.57,677.42 L630.72,673.35 L636.84,667.24 L642.95,665.2 L651.1,663.16 L657.21,659.09 M618.5,683.54 L622.57,689.65 L624.61,693.72 L632.76,689.65 L638.87,685.57 L642.95,683.54 L651.1,687.61 L659.25,689.65 L663.32,691.69 M624.61,693.72 L618.5,699.84 L612.39,703.91 L610.35,710.02 L612.39,714.1 L608.31,718.17 M622.57,693.72 L628.69,699.84 L632.76,703.91 L630.72,710.02 L634.8,716.14 L636.84,722.25 M651.1,687.61 L649.06,695.76 L651.1,701.87 L655.17,705.95 L651.1,714.1 L657.21,720.21 L663.32,714.1 L669.44,707.99 L673.51,701.87 M636.84,722.25 L626.65,730.4 L620.54,736.51 L622.57,742.62 L628.69,746.7 L634.8,750.77 L636.84,756.89 M649.06,714.1 L642.95,720.21 L636.84,722.25 M657.21,720.21 L661.29,726.32 L665.36,730.4 L669.44,734.47 L673.51,740.59 L679.62,744.66 M661.29,728.36 L659.25,734.47 L655.17,736.51 L651.1,742.62 L644.99,744.66 L638.87,750.77 L634.8,754.85 L628.69,760.96 M620.54,742.62 L614.42,746.7 L608.31,752.81 L602.2,760.96" mask="url(#dm)" fill="none" stroke="#808080" stroke-width="0.63" stroke-linejoin="round"/>
<path mask="url(#rg0)" d="M542,490 L541.5,493 L543,495 L545,499 L548,501 L552,503 L555,506 L558,510 L561,514 L563,518 L564,522 L563.5,525 M565,490 L567,494 L569,498 L572,500 L576,502 L580,504 L584,505 L587,503 L590,505 L594,504 L595,504 M531.5,511 L527,515 L523,519 L519,523 L517,525 L519,526 L520.5,528 M515,525 L517,525 M520.5,528 L526,533 L530,537 L533,539.5 M549,517 L547,520 L546,523 L545,525 L548,525 M545,525 L543,528 L540,532 L537,535 L534,539 L533,539.5 M533,539.5 L528,542 L524,543 L521,544 L515,544.5 M533,539.5 L535,544 L536,548 L539,550 L544,550 L547,547 L549,548 L553,545 L557,542 M562,528 L560,529 L561,532 L563,534 L560,536 L557,536 L557,540 L558,544 L560,547 L560,550 L557,552 L555,554 L554,556 M557,542 L558,544 M560,550 L565,552 L570,553.5 L575,550 L576,546 L576,542 L578,539 L584,538 M570,553.5 L572,558 L575,562 L577,565 L578,568 L578.5,570 M538,550 L533,553 L529,555 L525,556 L521,558 L517,560 L515,562 M515,554 L519,556 L521,558 M533,553 L535,556 L537,560 L538,566 L536,568 L533,570 M554,556 L550,559 L545,561 L541,564 L538,566 M555,556 L558,559 L561,562 L564,566 L565,570 M579,561 L581,559 L584,559 L587,557 L591,556 L592,554 L589,552 L587,550 L586,547 L590,545 L594,544 L595,544 M579,561 L578.5,565 L580,568 L580.5,570 M584,560 L584,565 L585,570 M591,556 L593,560 L594,564 L595,566" fill="none" stroke="#808080" stroke-width="0.63" stroke-linejoin="round"/><path mask="url(#rg1)" d="M520,572 L523,575 L525,578 M515,583 L519,583 L523,582 L527,578 L532,574 L533,570 M532,574 L535,576 L538,578 L541,577 L543,576 L545,578 L548,577 L551,576 L555,574 L559,572 L562,570 M535,579.5 L539,584 L542,587 L545,590 L545.5,594 L548,596.5 M548,596.5 L551,595.5 L552.5,598 L555,595 L559,594 L562,593 L564,592.5 M523,583 L527,588 L530,591 L530,594 L533,597 L536,600 L539,603 M539,603 L548,597 M539,603 L536,607 L532,611 L528,616 L530,618 L533,620 L537,619 L540,618 L542,619 L542.5,622 L544,624 M556,574 L557,578 L559,582 L560,586 L562,590 L563,593 M561,597 L565,600 L568,603 L571,606 L574,609 L577,612 L579,616 L581,619 L582,623 L585,626 L589,630 L593,635 L595,636 M566,584 L568,587 L571,590 L575,593 L577,595 L579,596 L581,598 L584,601 L585,604 M567,585 L571,582 L573,580 L575,579 L579,577 L577,574 L574,572 L571,570 M580,579 L581,583 L583,586 L585,588 L587,591 L588,594 L586,596 L587,598 L589,599 L591,600 L593,601 L595,600 M584,570 L585,574 L589,576 L593,578 L595,577 M585,574 L583,578 L581,583 M587,572 L591,574 L594,573 M589,580 L591,582 L593,584 L595,583 M581,586 L585,584 L589,582 M585,588 L589,590 L593,588 M575,613 L579,610 L583,607 L587,604 L591,601 M561,610 L557,612 L553,614 L548,617 L543,620 L542.5,622 M544,624 L548,625 L551,626 L553,629 L557,631 L561,633 L565,634 L569,638 L570,642 L569,646 L571,650 M565,634 L569,632 L573,630 L577,628 L581,624 M544,624 L539,627 L535,628 L531,628 L528,630 L528,633 L529,636 L525,637 L521,637 L518,638 L515,639 M529,636 L534,635.5 L538,636 L542,636 L545,638 L549,641 L551,642 L549,645 L551,648 L553,650 M562,650 L563,648 L567,647 L571,646 L575,647 L577,649 M515,610 L518,612 L521,612 L524,614 L527,616 M593,630 L595,630" fill="none" stroke="#808080" stroke-width="0.63" stroke-linejoin="round"/><path mask="url(#rg2)" d="M435,576 L437,578 L441,580 L444,577 L447,575 L449,573 L450,571 L449,570 M447,575 L449,578 L452,581 L453,584 L456,588 L455,590 L457,592 L453,596 L449,600 L446,603 L442,607 L443,609 L446,612 L449,614 L452,617 L455,619 L459,617 L461,616 L464,618 L466,617 L469,614 L472,612 L474,610 L476,607 L478,605 L476,603 L474,601 L473,600 L475,598 L477,596 L479,594 L477,592 L476,590 L475,588 L473,588 L471,590 L468,588 L465,585 L462,583 L459,585 L456,588 M475,588 L476,585 L478,582 L479,580 L478,578 L481,575 L484,572 L483,570 M479,580 L482,581 L484,585 L486,589 L487,591 L490,593 L494,594 L495,592 L498,590 L501,588 L504,590 L506,592 L509,589 L510,585 L513,582 L515,581 M494,594 L494.5,597 L493,600 L494,604 L496,607 L498,610 L499,613 L499,616 L500,619 L502,621 L505,623 L509,619 L512,616 L515,613 M506,592 L504,595 L503,597 L505,599 L507,601 L509,604 L511,607 L510,609 L513,610 L515,610 M449,614 L445,618 L441,622 L437,626 L435,628 M435,627 L439,631 L443,635 L448,640 L451,640 L454,644 L456,648 L457,650 M472,613 L477,618 L482,623 L486,627 L490,631 L494,635 L490,639 L486,643 L482,647 L479,650 M490,631 L493,627 L497,623 L500,619.5 M509,649 L512,648 L515,649" fill="none" stroke="#808080" stroke-width="0.63" stroke-linejoin="round"/><path mask="url(#rg3)" d="M572,558 L574,560 L576,562.5 L577.5,565 L578.5,567.5 M578.5,567.5 L579.5,564 L580,561.5 L582,559 L584,558.5 L586,559 L587,558 L586.5,556.5 L588,556 L590.5,557 L591.5,555 M590.5,557 L593,558.5 L596,559.5 L598.5,561 L601,561.5 L602,561 M580,562 L582,565 L584,567.5 L586,568 L587,569 L589.5,570 L590.5,567 L591,565 L592.5,562.5 L593.5,560 L593,558.5 M572,567.5 L574,566 L576,564.5 L577.5,565 M572,571 L574,573 L576,575 L578,575.5 L579.5,577.5 L580.5,579 L581,581.5 L580.5,583.5 L580.5,586 M572,579.5 L574,579 L576,577 L577,575.5 M580.5,586 L578,587 L576,588 L574,590 L572,590.5 M580.5,586 L583,585.5 L585,585 L587,584 L589,582.5 L591,581 L593,579.5 L595,578 L596,576.5 L595,575 L593,574 L591,572.5 L589.5,570 M580.5,586 L582,588 L584,590 L586,591.5 L588,592.5 L590,591.5 L592,590 L593,589 L594,588 L595.5,586.5 L597,585 L598,583.5 M584.5,571 L587,573 L590,575.5 L593,578 L596,580.5 L598,583 M586,570 L589,572 L592,574 L595,576 L598,578.5 L600,580.5 M583.5,575 L586,577 L588.5,579.5 L591,581.5 L593.5,584 L596,586 M584,578.5 L586.5,580.5 L588.5,583 L590.5,585 L592.5,587.5 L593.5,589 M593,574 L590,576.5 L587,578.5 L584.5,580 M595.5,577 L593,579 L590,581 L588.5,582.5 M596,571.5 L598,570 L600,570.5 L601.5,572 L601,574 L600,575 L598,575 L596.5,574 L596,571.5 M597,576 L599,577.5 L601,578 M602,589 L604,590 L606,591 L608,592 L610,593 L612,594 M595,594 L597,591.5 L599,590.5 L601,589.5 L602,589 M604,587 L606,588 L608,590 L609,592 L610,594 M607,585 L608,587 L610,589 L612,589.5" fill="none" stroke="#808080" stroke-width="0.63" stroke-linejoin="round"/><path mask="url(#rg4)" d="M592,589 L595,586.5 L597,584.5 L597.5,583 M602,588.5 L600.5,589.5 L598,591 L596.5,592 L595,594 L593.5,596.5 L592.5,599 L593,602 L594,605 L594.5,608 L594.25,612 L594.5,617 L596.5,620 L597.5,622 M600.5,589.5 L600,592 L599.5,595 L600,598.5 L600.5,602 L601,605 L601.5,607 M602,588.5 L603,591 L604,593.5 L604,596.5 L604.5,599 L605,601 L607,601.5 L609.5,600.5 L611,599 L610.5,597 L609.5,595 L610.5,593.5 L613,592.5 L615,592 L617,591.5 M604,595.5 L606,594.5 L608,593.5 L609.5,592.5 L611,591 L612,589 L611.5,587 M604.5,587 L606,589 L607.5,590.5 L609,592 L609.5,592.5 M605.5,586 L607.5,587.5 L609,589 L610.5,589.5 M610.5,593.5 L612,594.5 L614,595.5 L616,596.5 L617.5,598 L617,600 L616,601.5 L615,603 L614.5,604.5 M611,599 L611.5,601 L613,602.5 L614.5,604 M597,605.5 L599.5,603.5 L602,602 L604.5,601 M602,606 L605,605 L608,604 L610.5,603 L611,605 L611,607 M624.5,595.5 L622,598 L619,601 L616,604 L613.5,607 L611.5,609.5 L613,612 L611,614 L608,616.5 L605.5,618.5 L603.5,620.5 L602.5,622 M623,598 L625.5,599.5 L628,601 L630.5,602.5 L632,603 M617,612 L619,614.5 L621,617 L623,619 L625,620.5 L626,622 M617,612 L619,609.5 L620,608 M632,616 L630,618 L628,620 L627,622" fill="none" stroke="#808080" stroke-width="0.63" stroke-linejoin="round"/><path mask="url(#rg5)" d="M537,619 L540,617.5 L542,619 L541.5,622 L543,624 L541,627 L539,628 L537,627 M542,621 L547,618 L553,615 L558,612 L561,610 M543,624 L547,625 L550,625.5 L552,628.5 L556,631 L560,633 L565,634.5 L569,637 L570,640 L568.5,642 L569,646 L566,646.5 L563,648 L562.5,650 L564,652 L561,654 L560,656 L557,657.5 L552,659 L547,659 L542,660.5 L537,661.5 M565,634.5 L569,631 L572,629.5 L576,628.5 L579,626 L581.5,623.5 L579,620 L577.5,618 L578,615 L575,612 L573,610 M581.5,623.5 L585,624.5 L588,627 L588,630 L591,632 L594,635 L597,638 L599,641 L597,644 L594.5,646 L595,649 L597,651 L597.5,654 L597,657 M575,612 L577,611 L579,610 M594,610 L594.5,616 L597,620 L600.5,623 L603,623 M600.5,623 L597,627 L595,629 L596,631 L594,635 M603,623 L607,619 L611,615 L614,611 L613,610 M603,623 L607,627 L611,631 L613,634 L616,635 L617,635.5 M615,635 L616,638 L617,639 M617,640 L613,644 L609,648 L605,652 L601,655 L599,657 L600,660 L603,662 L606,665 L609,663 L613,664 L615,667 L617,669 M606,665 L602,670 L597,675 L592,681 L589,679 L585,675 L584,672 L581,669 L577,665 L573,661 L570,658 L567,654 L564,652 M569,645.5 L573,646 L577,647 L579,650 L580,653 L583,656 L587,656 L591,657 L595,656 L597,657 M537,635 L542,635.5 L545,637 L549,639 L551,641 L548.5,644.5 L552,648 L556,652 L560,656 M585,675 L581,679 L578,682 L574,683 L570,684 L566,686 L564,688 L563,690 M578,682 L580,686 L581,690 M537,665.5 L540,668 L541.5,670 L540,672 L537,673 M540,672 L544,676 L548,680 L545,684 L542,687 L539,690 M543,687 L545,690" fill="none" stroke="#808080" stroke-width="0.63" stroke-linejoin="round"/><path mask="url(#rg6)" d="M617,612 L620,615 L623,618 L626,620 L629,622 L631.5,624.5 L628,628 L625,631 L621,634 L617,637 M637,610 L632,615 L627,619 L623,623 M625,631 L629,634 L633,637 L636,639 L639,642 L642,642 L647,642 L651,642 L654,645 L654,650 L655,654 L657,657 L658,659 M636,639 L637,636 L641,634 L644,635 L646,634 L647,632 L644,630 L646,629 L648,631 L648,634 L651,633 L652,631 L655,629 L659,629 L664,627 M656,661 L654,662 L650,665 L647,667 L643,666 L639,665 L638,670 L633,672 L628,674 L624,677 L622,679 M617,670 L620,671 L622,674 L622,678 L623,680 L621,682 L619,684 L617,686 M617,686 L619,688 L621,690 M633,688 L637,688 L641,684 L645,685 L649,687 L653,688 L657,689" fill="none" stroke="#808080" stroke-width="0.63" stroke-linejoin="round"/><path mask="url(#rg7)" d="M537,692 L540,689 L543,686.5 L545,685 M543,686.5 L547,691 L550,694 L553.5,696.5 M553.5,696.5 L557,694 L561,691 L564,689 L567,687 L572,685 M553.5,696.5 L555,700 L557,703 L560.5,707.5 L557,710 L555,712 L553.5,716 L552.5,722 L549,726 L548,728 L547,733 L545,737 L542,740 L539,742.5 L537,743.5 M579,685 L581,689 L584,692 L587,695 L591,697 L594,700 L597.5,703.5 L601,707 L605,711 L608.5,714.5 M597.5,703.5 L594,707 L590,711 L586,715 L582.5,719.5 L584.5,722 L580,724 L576,727 L572,730 L570,733 L566,735 L564,738 L562.5,742 M548,727.5 L552,732 L556,737 L560,741 L562.5,742 L566,746 L570,750 L575,755 L580,761 M608.5,714.5 L612,712 L616,709 L617,708 M616,709 L613,705 L611,704 L614,701 L617,699 M608.5,714.5 L610,718 L613,722 L611,725 L607,729 L604.5,732.5 L608,736 L612,740 L616,744 L617,745" fill="none" stroke="#808080" stroke-width="0.63" stroke-linejoin="round"/><path mask="url(#rg8)" d="M617,685 L620,688 L623,692 L620,695 L617,698 M623,692 L627,695 L630,695 L632,692 L633,688 L637,687 L640,686 L641,685 M623,693 L627,697 L630,701 L632.5,705 L632,709 L629,712 L631,715 L633,718 L635,721 L637.5,723.5 M646,685 L650,687 L653,688 L657,689 L662,691 L664,692 M653,688 L651,693 L650,699 L655,701 L654,705 L652,709 L651,712 L648,714.5 M637.5,723.5 L641,720 L645,717 L648,714.5 M648,714.5 L652,718 L656,722 L659,725 L662.5,729 M656,721 L660,717 L664,713 L668,709 L671,706 L671.5,703 L673,700.5 M662.5,729 L667,733 L671,735 L672,739 L674,743 L677,745 L680,746 M660.5,729.5 L660.5,737 L655,737.5 L655,743 L646,743.5 L645.5,749 L641,749.5 L635.5,754.5 M637.5,723.5 L633,725 L630,727 L627,730 L624,731 L622,733 L621,737 L619,739 M619,739 L622,743 L626,747 L630,751 L634,755 L637,758 L640,761 M621,743 L618,745 L617,745.5 M630,751 L626,755 L623,758 L620,761 M687,700 L688.5,705 L689,715 L689,727 L688,735 L685,739 L680,746 L675,753 L670,760" fill="none" stroke="#808080" stroke-width="0.63" stroke-linejoin="round"/><path mask="url(#rg9)" d="M393,610 L396,612 L398.5,615 L399,617 L404,622 L409,627 L415,634 L418,637 L421.5,640 M415,634 L412,637 L410,638.5 L408,636 L406,636 L404,639 L404,641 L400,645 L396,649 L392,653 L387,658 L390,662 L394,666 L398,670 L402,674 L405.5,678.5 L402,681.5 L399,684 L396,687 L393,690 M374,636 L377,638 L382,643 L387,648 L392,653 M421.5,640 L425,637 L430,632 L435.5,627.5 L440,623 L444,619 L448,614.5 L454,610 M448,614.5 L444,610 M448,614.5 L452,617 L454,618 M435.5,627.5 L439,631 L444,636 L448,639.5 L451,641 L454,644 M425,638 L428,640 L431,642 L432.5,645 L432,647 L434,649 L436,651 L433,654 L430,657 L429.5,659 L432,662 L434,664 L435,666 L438,669 L440,671 L443,672 L445,670 L448,672.5 L454,668 M440,671 L437,670 L434,671 L431,674 L428,676 L424,678 L421,678 L418,681 L415,683 L413,685 L412,689 M448.5,672.5 L445,676 L441,680 L440,684 L438,686 L435,690 M399,684 L402,684.5 L405,687 L408,689 L410,688 L412,689" fill="none" stroke="#808080" stroke-width="0.63" stroke-linejoin="round"/><path mask="url(#rg10)" d="M397,685 L392,689 L388,693 L385,698 L380,702 L376,706 L374,708 M374,698 L376,700 L376.5,704 L375,706 M385,698 L389,700.5 L392,703 L395,706 L397,710 L400,712 L403,715 L406,718 L409,721 L409,724 L412,728 L415,732 L416,734 L414,737 L411,735 L407,738 L402,742 L397,746 L392,751 L387,756 L383,761 M400,685 L406,689 L410,693 L414,694 L417,697 L421,701 L423,701 M423,701 L428,696 L433,691 L439,685 M423,701 L426,703 L429,705 L428,708 L432,712 L435,716 L438,714 L442,710.5 L445,713 L448,716 M448,716 L452,712 L454,710 M448,716 L444,720 L440,725 L436,729 L431,733 L426,737 L423.5,739.5 L424,745 L423,750 L422,753 L425,757 L428.5,761 M416,734 L419,730 L421,729 L424,728 L427,731 L430,733 M440,725.5 L444,730 L448,734 L452,738 L454,740 M374,740 L378,740 L381,744 L382,748 L381.5,751 L384,754 L387,757 L389.5,761" fill="none" stroke="#808080" stroke-width="0.63" stroke-linejoin="round"/><path mask="url(#rg11)" d="M454,646 L458,650 L461,653 L458,656 L458,658 L461,660 L464,663.5 L467,661 L470.5,658 L475,654 L479,650 L484,645 M461,660 L458,663 L454,667 M470.5,658 L474,662 L478,666 L480,665 L482,664 L484,666 L487,669 L489,668.5 L492,667 L494,664 L498,661 L502,657 L505,654 L508,651 L510,648.5 L513,649.5 L515,650 L517,646 L517.5,645 M505,654 L507,656 L510,658 L513,656 L515,656 L517,659 L520,662 L523,664 L524,662 L528,660.5 L534,660.5 M488,669 L485,673 L482,676 L479,678 L476,679.5 L474,682 L473,685 L470,689 L468,691 L469,694 L467,696 L469,699 L464,703 L459,707 L454,711 M479,678 L482,681 L485,684 L488,684 L492,688 L496,691 L498,688 L501,688 L503,689 L507,685 L511,681 L514,684 L516,686 L520,682 L524,678 L526,675 L528,674 L531,677 L534,676 M469,699 L473,695 L476,694 L478,694 L481,692 L484,695 L488,699 L491,702 L490,705 L493,708 L496,711 L498,712 L500,711 L503,714 L506,717 L510,721 L514,724 L515,725 M514,706 L518,702 L522,698 L526,694 L530,690 L534,693 M514,706 L518,711 L515,714 L512,717 L508,714 L506,716" fill="none" stroke="#808080" stroke-width="0.63" stroke-linejoin="round"/><path mask="url(#rg12)" d="M454,711 L458,707 L462,704 L466,700 M490,700 L492,702 L491,704 L494,707 L498,712 L500,710.5 L504,714 L508,718 L513,724 L514,726 L513,730 L510,732 L508.5,735 L508,740 L506,744 L503,748 L499,752 L495,756 L491,760 L488,758 L484,754 L480,750 L476,744 L474,741 L471.5,738.5 L466,743 L461.5,747 L458,744 L454,741 M461.5,747 L464,750 L467,754.5 L464,757 L463.5,760.5 M503,748 L507,752 L510,755 L513,758 L513,760.5 M507,714.5 L510,716 L512,718 L515,715 L518,712 L519,710.5 L516,708 L514,705 L517,702 L520,700 M520,760.5 L522,757 L524,753 L526,752 L530,749 L534,747 M526,753 L530,757 L533,760" fill="none" stroke="#808080" stroke-width="0.63" stroke-linejoin="round"/><path mask="url(#rg13)" d="M500,430 L498,433 L497,437 L496,440 L494,443 L490,445 L486,446 L484,448 M480,459 L485,459.5 L486,460 M524,439.5 L530,440 L536,440.5 L537,444 L540,445 L544,444.5 L545,444 M536,444 L535,450 L534.5,456 L532,460 L529,463 L528,465 L530,467 L527,466 L524,465 L522,467 L522,469 L521,471 L524,472 L528,474 L530,476 L532,477 L534,480 L533,484 L532,487 L531,490 L528,490 L526,488 L524,489 L522,488 L520,487 L516,487 L512,486 L508,487 M505,484 L500,485 L498,488 L495,491 L492,494 L489,495 L486,494 L483,492 L480,491 M513,496 L512,500 L513,504 L511,508 L510,510 M545,487 L542,491 L542,494 L545,496" fill="none" stroke="#808080" stroke-width="0.63" stroke-linejoin="round"/><path mask="url(#rg14)" d="M500,430 L498,433 L497,437 L496,440 L494,443 L490,445 L486,446 L484,448 M480,459 L485,459.5 L486,460 M524,439.5 L530,440 L536,440.5 L537,444 L540,445 L544,444.5 L545,444 M536,444 L535,450 L534.5,456 L532,460 L529,463 L528,465 L530,467 L527,466 L524,465 L522,467 L522,469 L521,471 L524,472 L528,474 L530,476 L532,477 L534,480 L533,484 L532,487 L531,490 L528,490 L526,488 L524,489 L522,488 L520,487 L516,487 L512,486 L508,487 M505,484 L500,485 L498,488 L495,491 L492,494 L489,495 L486,494 L483,492 L480,491 M513,496 L512,500 L513,504 L511,508 L510,510 M545,487 L542,491 L542,494 L545,496" fill="none" stroke="#808080" stroke-width="0.63" stroke-linejoin="round"/><path mask="url(#rg15)" d="M170,121 L173,122 L175.5,120.5 L176,117 L175,113 L174.5,111 M188.5,112 L188.5,121 M202,112 L203,116 L205,118 L206,121 L208,124 L208.5,127 M188,124 L188.5,131 L189,137 L188,141 L190,145 L191,148 L193,153 L194.5,158 L196,164 M170,140 L172,143 L173.5,147 L174,151 L174,160 L173,163 L172,167 L170,171 M174,160 L180,159 L183,157 L186,151 L187,149.5 L191,148.5 M187,149.5 L188,155 L190,160 L192,164 L194,165 L195,165 M179,161 L180,165 L183,169 L186,172 L188,173.5 M188,173.5 L190,169 L192,165 M188,173.5 L187,179 L186.5,185 L190,187 L196,188 L197,191 M195,164.5 L201,164 L200,167 L199,173 L198,179 L197,182 L196,188 M201,164 L200.5,155 L199.5,147 L201,145.5 L203.5,145.5 L202,141 L202.5,138 L201,136.5 M203.5,145.5 L208,147 L212,149 L216,152 L219,155 L223,156.5 L228,157.5 M198.5,179 L203,180 L208,180 L213,179 L217,177 L220,176 L224,177 M221,177 L219,181 L218,186 L217.5,191 M229,152.5 L235,152 L240,152 L243,149 L244,146.5 L250,146 M235,117 L240,114 L246,113 L249,112 M246,113 L246,115 L249,115" fill="none" stroke="#808080" stroke-width="0.63" stroke-linejoin="round"/><path mask="url(#rg16)" d="M336.1,625.21 L338.2,622.06 L340.3,619.96 L343.45,618.38 L344.5,615.76 L346.61,613.66 L348.71,610.5 L350.81,612.61 L350.81,614.71 L353.96,617.86 L358.16,622.58 L362.36,619.43 L366.56,615.76 L370.76,611.55 L373.92,608.4 L376.02,606.3 M362.36,619.96 L363.41,623.11 L364.46,626.26 L367.61,629.41 L369.71,630.46 L372.87,633.61 L376.02,637.82 M376.02,638.87 L370.76,644.12 L365.51,649.37 L360.26,654.62 L355.01,659.87 L349.76,665.13 L346.08,669.85 M336.1,661.97 L340.3,665.13 L346.08,669.85 L350.81,674.58 L355.01,678.78 L359.74,684.03 M372.87,608.4 L373.92,610.5 L376.02,609.45" fill="none" stroke="#808080" stroke-width="0.63" stroke-linejoin="round"/><path mask="url(#rg17)" d="M356.06,680 L359.21,684.2 L363.41,688.4 L367.61,692.61 L371.82,696.81 L376.02,700.48 M359.21,684.2 L358.16,687.35 L355.01,690.5 L353.43,694.71 L350.28,699.96 L346.61,704.16 L342.4,707.84 M337.15,703.11 L339.25,705.21 L342.4,707.84 L346.61,712.56 L351.86,717.82 L358.16,724.64 L363.41,729.37 L368.66,734.62 L374.97,740.92 L376.02,741.97 M350.28,699.96 L355.01,704.16 L360.26,709.41 L366.56,715.19 M376.02,706.26 L371.82,710.46 L366.56,715.19 L362.36,719.92 L358.16,724.64 M364.46,760.88 L366.56,758.26 L368.66,760.88" fill="none" stroke="#808080" stroke-width="0.63" stroke-linejoin="round"/>
<path d="M48,154.81 L58.19,150.73 L60.22,151.75 L62.26,159.9 L66.34,167.03 L68.37,164.99 L74.49,163.57 L88.75,166.01 L107.09,165.6 L111.16,159.9 L115.24,157.45 L141.72,158.27 L143.76,166.01 L145.8,174.16 L147.84,180.27 L153.95,185.37 L154.97,188.02 L152.93,194.54 L153.95,196.57 L168.21,200.65 L178.4,206.76 L188.59,216.95 L192.66,223.06 L194.7,227.14 L198.77,239.36 L202.85,249.55 L206.92,259.74 L211,271.96 M178.4,113.04 L182.47,119.15 L184.51,125.26 L188.59,122.21 L192.66,127.3 L194.7,133.41 L199.79,136.47 L204.89,130.36 L211,126.28 M48,263.81 L52.07,265.85 L56.15,269.92 L60.22,274 M211,125.26 L223.22,129.74 L225.26,127.3 L231.37,126.89 L232.39,120.17 L233.41,115.07 L233.41,111 M223.22,129.74 L224.85,137.49 L227.3,145.64 L228.93,159.9 L228.32,172.12 L224.85,176.61 L227.3,181.29 L235.45,186.39 L241.56,191.48 L243.6,200.65 L245.64,206.76 L246.66,216.95 L249.3,221.02 L247.27,225.1 L248.69,231.21 L247.67,241.4 M240.54,243.44 L247.67,241.81 L276.2,235.69 L296.57,238.34 L300.65,243.44 L306.76,240.38 L310.84,244.46 L325.1,246.49 L328.16,251.59 L341.4,253.62 L365.85,256.07 L366.87,261.77 L371.96,269.92 L374,274 M240.54,243.44 L241.56,253.62 L239.52,261.77 L231.37,274 M432.07,111 L432.07,133 L534.96,135.86 L537,135.86 M432.07,133 L429.01,157.86 L422.9,192.5 L416.79,231.21 L411.69,257.7 L409.66,274 M374,267.89 L380.11,271.96 L381.13,274 M580,201.25 L578.75,207.5 L572.5,212.5 L568.75,215 L566.25,220 L561.88,220.62 L560,227.5 L555,230.62 L554.38,238.75 L553.75,250 L552.5,257.5 L550,261.25 L552.5,266.25 L553.75,272.5 L551.25,280 M537,135.86 L601.18,137.89 L602.2,140.54 L599.14,144.62 L596.09,146.66 L589.97,147.27 L587.94,151.75 L587.94,159.9 L588.96,170.09 L586.92,174.16 L586.92,182.31 L584.88,188.42 L581.82,196.57 L580.19,203.71 M601.18,137.89 L603.22,133.41 L605.26,127.3 L606.27,119.15 L603.22,111 M61.24,274 L68.37,282.15 L78.56,289.28 L87.73,296.41 L89.77,302.52 L93.84,308.64 L100.97,317.81 L109.12,324.94 L115.24,333.09 L119.31,337.16 L120.33,343.27 L119.31,351.42 L120.33,359.57 L120.33,367.72 L123.39,373.84 L129.5,384.02 L135.61,385.04 L137.65,392.17 L141.72,398.29 L148.04,402.97 L158.02,405.42 L165.16,406.44 L168.21,403.38 L178.4,402.36 L182.47,401.34 L188.59,398.29 L198.77,397.88 L211,399.31 M198.77,397.88 L197.76,375.87 L196.74,355.5 L195.72,339.2 L200.81,322.9 L206.92,306.6 L211,294.37 M102.38,401.88 L103.62,407.5 L103,412.5 L102.38,417.5 L103.62,421.25 L106.75,425 L110.5,427.5 L113,428.12 L114.88,430 L115.5,433.12 L113,433.75 L112.38,435 L114.25,440 M48,423.12 L53,423.12 L56.75,421.88 L59.25,420 L61.75,421.25 L66.75,418.75 L70.5,417.5 L74.88,418.12 L78,422.5 L81.75,426.25 L85.5,427.25 L91.75,426.88 L98,426.88 L100.5,425.62 L103,430 L106.75,432.5 L110.5,433.75 L113,433.75 M102.38,401.88 L114.25,402.25 L118,400 L121.12,398.75 L126.75,399.75 L133,401.25 L138,402.25 L148,402.5 M211,294.37 L212.63,286.22 L214.67,279.09 L211,275.02 M214.67,279.09 L223.22,276.04 L231.37,274 M211,399.92 L219.15,406.44 L227.3,412.55 L229.34,418.66 L231.37,425.79 L246.66,425.18 L247.67,432.92 L248.69,437 M380.11,274 L378.07,280.11 L379.09,286.22 L383.17,290.71 L402.52,291.32 L404.56,294.37 L405.58,299.47 L410.67,305.58 L416.79,312.71 L421.88,317.81 L418.82,331.05 L414.75,345.31 L410.67,359.57 L406.6,373.84 L404.56,376.89 L398.45,381.99 L399.47,388.1 L400.49,396.25 L402.52,404.4 L401.51,412.55 L404.56,416.62 L410.67,420.7 L412.71,428.85 L416.79,437 M410.27,274 L407.62,286.22 L405.58,298.45 M537,337.16 L530.89,343.27 L527.83,349.39 L524.77,354.48 L520.7,357.54 L519.68,363.65 L516.62,367.72 L512.55,371.8 L508.47,373.84 L504.4,377.91 L500.32,381.99 L494.21,384.02 L490.14,386.06 L488.1,390.14 L487.08,396.25 L485.04,401.34 L487.08,408.47 L485.04,416.62 L485.04,424.77 L483.01,428.85 L481.99,437 M551.26,280.11 L548.21,288.26 L546.17,291.32 L548.21,298.45 L547.19,306.6 L548.21,316.79 L546.17,322.9 L543.11,329.01 L537,337.16 M546.17,291.32 L549.22,295.39 L552.28,300.49 L553.3,294.37 L563.49,293.36 L572.66,296.41 L580.81,293.36 L592.01,288.26 L604.24,287.24 L610.35,286.22 L617.48,289.28 L622.57,292.34 L630.72,293.36 L634.8,298.45 L638.87,304.56 L640.91,312.71 L644.99,318.82 L651.1,321.88 L654.16,324.94 L654.16,335.12 L649.06,339.2 L649.06,347.35 L647.02,355.5 L642.95,363.65 L640.91,369.76 L636.84,373.84 L638.87,379.95 L640.91,384.02 L638.87,388.1 L637.86,392.17 L632.76,396.25 L628.69,400.32 L627.67,408.47 L630.72,416.62 L630.72,424.77 L628.69,430.89 L626.65,437 M114.42,440.06 L115.24,445.15 L118.29,453.3 L121.35,457.37 L122.37,461.45 L119.31,467.56 L121.35,477.75 L123.39,487.94 L125.42,502.2 L129.5,512.39 L135.61,520.54 L141.72,528.69 L145.8,532.76 L151.91,535.82 L153.95,538.87 L151.91,542.95 L151.91,551.1 L149.87,555.17 L147.84,557.21 L148.86,567.4 L149.87,573.51 L151.91,579.62 L155.99,585.74 L160.06,591.85 L163.12,600 M248.69,437 L248.69,443.11 L246.66,449.22 L245.64,459.41 L243.6,469.6 L241.56,477.75 L236.47,483.86 L237.49,508.31 L239.52,538.87 L240.54,569.44 L241.56,600 M335.29,600 L335.29,561.29 L362.79,561.29 L374,561.29 M362.79,561.29 L374,542.95 M416.79,437 L415.77,443.11 L417.81,447.19 L421.88,451.26 L423.92,457.37 L422.9,469.6 L414.75,477.75 L404.56,494.05 L394.37,510.35 L384.19,526.65 L374,542.95 M374,560.27 L425.96,561.29 L436.96,549.67 M480.97,437 L481.99,445.15 L484.02,455.34 L486.06,463.49 L490.14,471.64 L494.21,477.75 L496.25,479.99 M437,549.72 L451.99,533.97 L466.99,517.48 L470.73,511.48 L472.98,507.74 L476.73,506.99 L480.48,509.24 L484.98,511.48 L489.47,512.98 L493.97,513.73 L496.97,511.48 L498.47,506.99 L499.97,502.49 L502.97,497.99 L505.97,494.99 L507.46,490.49 L506.72,486 L504.47,483 L499.97,481.5 L496.22,480 M506.72,486 L508.96,489 L513.46,493.49 L517.96,497.99 L522.46,502.49 L526.96,504.74 L531.45,506.99 L534.45,511.48 L537,512.98 M626.65,437 L625.63,445.15 L627.67,457.37 L628.69,467.56 L629.71,475.71 L626.65,478.77 L618.5,480.81 L614.42,483.86 L612.39,489.97 L610.35,498.12 L608.31,504.24 L606.27,512.39 L605.26,518.5 L607.29,524.61 L608.31,529.91 M537,513.41 L543.11,515.44 L547.19,514.42 L551.26,518.5 L557.37,520.54 L563.49,521.56 L563.49,526.65 L569.6,528.69 L575.71,531.13 M575,530 L580,533 L584,537 L589,538 L593,542 L596,544 L600,543 L605,542.5 L609,543 L611,545 L610.5,550 L612,553 L611,555 L609,557 L607,559 L603,560 L602,561 L604,564 L603,567 L601.5,569 L602,572 L603,575 L604,577 L607,579 L609,582 L610,585 L613,587 L617,590 L622,593 L627,596 L632,599 L636,600 L640,603 M603,577 L601,579 L599.5,582 L601,586 L603,588 L606,585 L609,584.5 L609,582 M608,530 L608.5,536 L609.5,541 L610,545 M611,553.5 L613,554 L612,556 L614,557 L615.5,555 L616,557 L613,558 L611.5,556.5 M602.5,561 L604,562 L604.5,565 L603.5,566 L602.5,563 M163.12,600 L165.16,604.07 L166.17,612.22 L167.19,620.37 L166.17,630.56 L165.16,644.82 L164.14,657.05 L163.12,667.24 L162.71,672.33 M74.49,678.44 L137.65,673.35 L162.71,672.33 L196.74,671.31 L211,670.29 M74.49,678.44 L74.49,688.63 L77.54,689.65 L79.58,714.1 L81.62,738.55 L82.64,763 M241.56,600 L242.58,620.37 L243.19,640.75 L243.6,669.27 L211,671.31 M241.56,603.67 L335.29,602.04 M335.29,602.04 L335.29,763 M639.89,603.06 L642.95,606.11 L651.1,611.21 L659.25,618.34 L665.36,626.49 L669.44,634.64 L671.47,640.75 L667.4,646.86 L663.32,652.97 L659.25,658.07 L656.19,665.2 L656.19,673.35 L658.23,681.5 L661.29,687.61 L665.36,693.72 L671.47,698.82 L677.59,700.86 L683.7,700.86 L686.76,698.82 L688.79,701.87 L689.81,714.1 L689.81,730.4 L688.79,738.55 L683.7,746.7 L677.59,752.81 L671.47,760.96 L670.46,763" fill="none" stroke="#1a1a1a" stroke-width="1.0" stroke-linejoin="round"/>
<path d="M685.74,274 L687.77,267.89 L691.85,264.83 L696.94,263.81 M690.5,265 L686.5,268.3 L685.2,273.1 L684.8,277.2 L682.4,279.6 L680,281.3 L677.5,284.5 L675.9,286.1 L672.6,287.8 L669.4,289.4 L667,290.2 L665.7,291 L667,292.6 L667,297.5 L665.3,300.8 L661.3,304 L656.4,306.5 L652.3,308.9 L650.3,312.2 L650.3,316.2 L652.3,318.7 L653.1,321.9 L654.3,323.5 L654.3,325" fill="none" stroke="#2a2a2a" stroke-width="0.8" stroke-linejoin="round"/>
<path d="M40,279.83 L50,279.17 L60,278.53 L70,277.90 L80,277.30 L90,276.72 L100,276.16 L110,275.62 L120,275.10 L130,274.60 L140,274.13 L150,273.67 L160,273.24 L170,272.82 L180,272.43 L190,272.05 L200,271.70 L210,271.37 L220,271.06 L230,270.76 L240,270.49 L250,270.24 L260,270.02 L270,269.81 L280,269.62 L290,269.45 L300,269.31 L310,269.18 L320,269.08 L330,268.99 L340,268.93 L350,268.89 L360,268.86 L370,268.86 L380,268.88 L390,268.92 L400,268.98 L410,269.06 L420,269.16 L430,269.29 L440,269.43 L450,269.59 L460,269.78 L470,269.98 L480,270.21 L490,270.45 L500,270.72 L510,271.01 L520,271.32 L530,271.64 L540,271.99 L550,272.36 L560,272.76 L570,273.17 L580,273.60 L590,274.05 L600,274.53 L610,275.02 L620,275.54 L630,276.07 L640,276.63 L650,277.21 L660,277.81 L670,278.42 L680,279.06 L690,279.73 L700,280.41" fill="none" stroke="#000" stroke-width="1.35" stroke-dasharray="1.15,1.61"/>
<path d="M40,614.07 L50,613.36 L60,612.67 L70,612.00 L80,611.35 L90,610.73 L100,610.13 L110,609.55 L120,608.99 L130,608.46 L140,607.94 L150,607.45 L160,606.99 L170,606.54 L180,606.12 L190,605.71 L200,605.34 L210,604.98 L220,604.64 L230,604.33 L240,604.04 L250,603.77 L260,603.53 L270,603.30 L280,603.10 L290,602.92 L300,602.77 L310,602.63 L320,602.52 L330,602.43 L340,602.36 L350,602.31 L360,602.29 L370,602.29 L380,602.31 L390,602.35 L400,602.42 L410,602.50 L420,602.61 L430,602.74 L440,602.90 L450,603.07 L460,603.27 L470,603.49 L480,603.73 L490,604.00 L500,604.28 L510,604.59 L520,604.92 L530,605.28 L540,605.65 L550,606.05 L560,606.47 L570,606.91 L580,607.38 L590,607.86 L600,608.37 L610,608.90 L620,609.46 L630,610.03 L640,610.63 L650,611.25 L660,611.89 L670,612.56 L680,613.25 L690,613.96 L700,614.69" fill="none" stroke="#000" stroke-width="1.35" stroke-dasharray="1.15,1.61"/>
<path d="M234.3,100 L252.8,772" fill="none" stroke="#000" stroke-width="1.35" stroke-dasharray="1.15,1.61"/>
<path d="M536.0,100 L512.6,772" fill="none" stroke="#000" stroke-width="1.35" stroke-dasharray="1.15,1.61"/>
</g>
<rect x="48.5" y="111.5" width="649.0" height="650.0" fill="none" stroke="#000" stroke-width="1.1"/>
<text x="40.5" y="283.8" text-anchor="end" class="tk">30°S</text>
<text x="40.5" y="618.1" text-anchor="end" class="tk">35°S</text>
<text x="253.5" y="777.7" text-anchor="middle" class="tk">65°W</text>
<text x="514.4" y="777.7" text-anchor="middle" class="tk">60°W</text>
<rect x="710.3" y="672.38" width="25.50" height="59.32" fill="#ffede5"/>
<rect x="710.3" y="613.36" width="25.50" height="59.32" fill="#fed9c9"/>
<rect x="710.3" y="554.34" width="25.50" height="59.32" fill="#fcbba1"/>
<rect x="710.3" y="495.32" width="25.50" height="59.32" fill="#fc9b7c"/>
<rect x="710.3" y="436.30" width="25.50" height="59.32" fill="#fb7a5a"/>
<rect x="710.3" y="377.28" width="25.50" height="59.32" fill="#f6583e"/>
<rect x="710.3" y="318.26" width="25.50" height="59.32" fill="#e83429"/>
<rect x="710.3" y="259.24" width="25.50" height="59.32" fill="#ca181d"/>
<rect x="710.3" y="200.22" width="25.50" height="59.32" fill="#ac1117"/>
<rect x="710.3" y="141.20" width="25.50" height="59.32" fill="#7e0610"/>
<path d="M710.3,141.6 L723.05,111.3 L735.8,141.6 Z" fill="#67000d"/>
<path d="M710.3,731.0 L723.05,760.0 L735.8,731.0 Z" fill="#fff5f0"/>
<path d="M710.3,141.2 L723.05,111.3 L735.8,141.2 L735.8,731.4 L723.05,760.0 L710.3,731.4 Z" fill="none" stroke="#000" stroke-width="1.35"/>
<line x1="735.8" y1="731.50" x2="741.40" y2="731.50" stroke="#000" stroke-width="1.0"/>
<text x="747.10" y="735.40" class="cbl">0</text>
<line x1="735.8" y1="672.50" x2="741.40" y2="672.50" stroke="#000" stroke-width="1.0"/>
<text x="747.10" y="676.38" class="cbl">300</text>
<line x1="735.8" y1="613.50" x2="741.40" y2="613.50" stroke="#000" stroke-width="1.0"/>
<text x="747.10" y="617.36" class="cbl">600</text>
<line x1="735.8" y1="554.50" x2="741.40" y2="554.50" stroke="#000" stroke-width="1.0"/>
<text x="747.10" y="558.34" class="cbl">900</text>
<line x1="735.8" y1="495.50" x2="741.40" y2="495.50" stroke="#000" stroke-width="1.0"/>
<text x="747.10" y="499.32" class="cbl">1200</text>
<line x1="735.8" y1="436.50" x2="741.40" y2="436.50" stroke="#000" stroke-width="1.0"/>
<text x="747.10" y="440.30" class="cbl">1500</text>
<line x1="735.8" y1="377.50" x2="741.40" y2="377.50" stroke="#000" stroke-width="1.0"/>
<text x="747.10" y="381.28" class="cbl">1800</text>
<line x1="735.8" y1="318.50" x2="741.40" y2="318.50" stroke="#000" stroke-width="1.0"/>
<text x="747.10" y="322.26" class="cbl">2100</text>
<line x1="735.8" y1="259.50" x2="741.40" y2="259.50" stroke="#000" stroke-width="1.0"/>
<text x="747.10" y="263.24" class="cbl">2400</text>
<line x1="735.8" y1="200.50" x2="741.40" y2="200.50" stroke="#000" stroke-width="1.0"/>
<text x="747.10" y="204.22" class="cbl">2700</text>
<line x1="735.8" y1="141.50" x2="741.40" y2="141.50" stroke="#000" stroke-width="1.0"/>
<text x="747.10" y="145.20" class="cbl">3000</text>
<text transform="translate(788.8,437.6) rotate(-90)" text-anchor="middle" class="tk">J/kg</text>
<g>
<path d="M644.31,35.33 L643.80,36.58 L643.38,37.86 L643.05,39.18 L642.81,40.52 L642.66,41.87 L642.59,43.24 L642.62,44.61 L642.74,45.98 L642.95,47.35 L643.25,48.69 L643.64,50.01 L644.11,51.31 L644.67,52.57 L645.30,53.79 L646.02,54.97 L646.81,56.09 L647.67,57.15 L648.60,58.16 L649.59,59.09 L650.64,59.96 L651.73,60.74 L652.88,61.45 L654.07,62.06 L655.29,62.58 L656.55,63.00 L657.85,63.27 L659.22,63.27 L660.40,63.67 L661.61,64.02 L662.83,64.29 L663.04,63.21 L661.87,62.95 L660.73,62.63 L659.61,62.24 L658.50,61.79 L657.43,61.28 L656.39,60.71 L655.37,60.08 L654.40,59.40 L653.47,58.66 L652.57,57.88 L651.73,57.04 L650.93,56.16 L650.18,55.24 L649.48,54.27 L648.84,53.27 L648.26,52.23 L647.73,51.17 L647.27,50.07 L646.87,48.95 L646.53,47.81 L646.25,46.66 L646.04,45.49 L645.89,44.30 L645.82,43.12 L645.80,41.93 L645.86,40.74 L645.98,39.56 L646.16,38.38 L646.41,37.22 L646.73,36.07Z" fill="#0d0d0d"/>
<ellipse cx="644.12" cy="36.75" rx="1.7" ry="0.7" transform="rotate(253.6,644.12,36.75)" fill="#0d0d0d"/>
<ellipse cx="643.39" cy="39.51" rx="1.7" ry="0.7" transform="rotate(246.7,643.39,39.51)" fill="#0d0d0d"/>
<ellipse cx="643.05" cy="42.36" rx="1.7" ry="0.7" transform="rotate(239.9,643.05,42.36)" fill="#0d0d0d"/>
<ellipse cx="643.12" cy="45.24" rx="1.7" ry="0.7" transform="rotate(233.0,643.12,45.24)" fill="#0d0d0d"/>
<ellipse cx="643.58" cy="48.10" rx="1.7" ry="0.7" transform="rotate(226.1,643.58,48.10)" fill="#0d0d0d"/>
<ellipse cx="644.43" cy="50.87" rx="1.7" ry="0.7" transform="rotate(219.3,644.43,50.87)" fill="#0d0d0d"/>
<ellipse cx="645.66" cy="53.50" rx="1.7" ry="0.7" transform="rotate(212.4,645.66,53.50)" fill="#0d0d0d"/>
<ellipse cx="647.23" cy="55.92" rx="1.7" ry="0.7" transform="rotate(205.6,647.23,55.92)" fill="#0d0d0d"/>
<ellipse cx="649.12" cy="58.09" rx="1.7" ry="0.7" transform="rotate(198.7,649.12,58.09)" fill="#0d0d0d"/>
<ellipse cx="651.27" cy="59.97" rx="1.7" ry="0.7" transform="rotate(191.9,651.27,59.97)" fill="#0d0d0d"/>
<ellipse cx="653.66" cy="61.50" rx="1.7" ry="0.7" transform="rotate(185.0,653.66,61.50)" fill="#0d0d0d"/>
<ellipse cx="656.22" cy="62.64" rx="1.7" ry="0.7" transform="rotate(178.1,656.22,62.64)" fill="#0d0d0d"/>
<ellipse cx="658.98" cy="63.14" rx="1.7" ry="0.7" transform="rotate(171.3,658.98,63.14)" fill="#0d0d0d"/>
<ellipse cx="661.55" cy="63.88" rx="1.7" ry="0.7" transform="rotate(164.4,661.55,63.88)" fill="#0d0d0d"/>
<path d="M689.89,35.33 L690.40,36.58 L690.82,37.86 L691.15,39.18 L691.39,40.52 L691.54,41.87 L691.61,43.24 L691.58,44.61 L691.46,45.98 L691.25,47.35 L690.95,48.69 L690.56,50.01 L690.09,51.31 L689.53,52.57 L688.90,53.79 L688.18,54.97 L687.39,56.09 L686.53,57.15 L685.60,58.16 L684.61,59.09 L683.56,59.96 L682.47,60.74 L681.32,61.45 L680.13,62.06 L678.91,62.58 L677.65,63.00 L676.35,63.27 L674.98,63.27 L673.80,63.67 L672.59,64.02 L671.37,64.29 L671.16,63.21 L672.33,62.95 L673.47,62.63 L674.59,62.24 L675.70,61.79 L676.77,61.28 L677.81,60.71 L678.83,60.08 L679.80,59.40 L680.73,58.66 L681.63,57.88 L682.47,57.04 L683.27,56.16 L684.02,55.24 L684.72,54.27 L685.36,53.27 L685.94,52.23 L686.47,51.17 L686.93,50.07 L687.33,48.95 L687.67,47.81 L687.95,46.66 L688.16,45.49 L688.31,44.30 L688.38,43.12 L688.40,41.93 L688.34,40.74 L688.22,39.56 L688.04,38.38 L687.79,37.22 L687.47,36.07Z" fill="#0d0d0d"/>
<ellipse cx="690.08" cy="36.75" rx="1.7" ry="0.7" transform="rotate(-73.6,690.08,36.75)" fill="#0d0d0d"/>
<ellipse cx="690.81" cy="39.51" rx="1.7" ry="0.7" transform="rotate(-66.7,690.81,39.51)" fill="#0d0d0d"/>
<ellipse cx="691.15" cy="42.36" rx="1.7" ry="0.7" transform="rotate(-59.9,691.15,42.36)" fill="#0d0d0d"/>
<ellipse cx="691.08" cy="45.24" rx="1.7" ry="0.7" transform="rotate(-53.0,691.08,45.24)" fill="#0d0d0d"/>
<ellipse cx="690.62" cy="48.10" rx="1.7" ry="0.7" transform="rotate(-46.1,690.62,48.10)" fill="#0d0d0d"/>
<ellipse cx="689.77" cy="50.87" rx="1.7" ry="0.7" transform="rotate(-39.3,689.77,50.87)" fill="#0d0d0d"/>
<ellipse cx="688.54" cy="53.50" rx="1.7" ry="0.7" transform="rotate(-32.4,688.54,53.50)" fill="#0d0d0d"/>
<ellipse cx="686.97" cy="55.92" rx="1.7" ry="0.7" transform="rotate(-25.6,686.97,55.92)" fill="#0d0d0d"/>
<ellipse cx="685.08" cy="58.09" rx="1.7" ry="0.7" transform="rotate(-18.7,685.08,58.09)" fill="#0d0d0d"/>
<ellipse cx="682.93" cy="59.97" rx="1.7" ry="0.7" transform="rotate(-11.9,682.93,59.97)" fill="#0d0d0d"/>
<ellipse cx="680.54" cy="61.50" rx="1.7" ry="0.7" transform="rotate(-5.0,680.54,61.50)" fill="#0d0d0d"/>
<ellipse cx="677.98" cy="62.64" rx="1.7" ry="0.7" transform="rotate(1.9,677.98,62.64)" fill="#0d0d0d"/>
<ellipse cx="675.22" cy="63.14" rx="1.7" ry="0.7" transform="rotate(8.7,675.22,63.14)" fill="#0d0d0d"/>
<ellipse cx="672.65" cy="63.88" rx="1.7" ry="0.7" transform="rotate(15.6,672.65,63.88)" fill="#0d0d0d"/>
<path d="M661.3,69.5 L670.3,66.3 M663.9,66.3 L672.9,69.5" fill="none" stroke="#111" stroke-width="1.2" stroke-linecap="round"/>
<circle cx="667.1" cy="42.3" r="21.3" fill="#fff" stroke="#505050" stroke-width="0.9"/>
<circle cx="667.1" cy="42.3" r="20.2" fill="none" stroke="#999" stroke-width="0.5"/>
<circle cx="667.1" cy="42.3" r="18.3" fill="none" stroke="#c4c4c4" stroke-width="2.0" stroke-dasharray="0.8,0.9"/>
<circle cx="667.1" cy="42.3" r="16.2" fill="none" stroke="#9a9a9a" stroke-width="0.6"/>
<path d="M652,37 L660,36 L660,42 L654,44 M661,29 L672,29 L676,32" fill="none" stroke="#ccc" stroke-width="0.4"/>
<path d="M652.95,47.19 L654.00,45.09 L656.79,44.39 L659.59,42.99 L660.99,40.19 L661.69,37.39 L663.79,35.99 L666.59,35.29 L670.09,34.59 L671.49,33.19 L674.99,32.49 L679.19,33.19 L681.99,34.59 L684.09,37.39 L684.79,41.59 L684.79,45.09 L683.39,47.19 L679.19,46.49 L677.79,45.09 L676.39,47.89 L674.99,51.39 L674.29,54.19 L672.89,56.99 L669.39,58.39 L664.49,58.74 L660.99,57.69 L658.19,56.29 L656.79,54.19 L656.10,51.39 L654.70,49.29Z" fill="#3b8ff0"/>
<path d="M655.05,46.84 L657.49,45.44 L660.29,44.04 L662.04,40.89 L663.09,38.09 L665.19,37.04 L669.39,35.99 L670.79,37.39 L672.19,38.09 L671.84,33.89 L675.69,33.54 L679.19,34.24 L681.99,35.99 L683.39,38.79 L683.74,42.99 L683.04,45.79 L679.89,45.79 L677.79,44.04 L675.34,46.84 L673.94,51.39 L672.89,54.89 L670.79,56.99 L666.59,57.69 L661.69,56.99 L658.89,55.59 L657.84,53.49 L657.14,51.04 L655.75,48.94Z" fill="#3fd8d0"/>
<path d="M656.79,47.89 L660.99,45.09 L663.09,41.59 L664.49,38.79 L667.99,37.39 L670.09,38.09 L671.49,40.19 L672.89,42.99 L674.99,45.09 L673.59,48.59 L672.19,52.79 L670.79,55.59 L666.59,56.99 L661.69,56.29 L659.24,54.19 L658.54,51.39Z" fill="#6ee050"/>
<path d="M672.89,35.29 L676.39,34.94 L679.89,35.99 L681.99,38.79 L682.69,42.29 L681.99,44.39 L679.89,42.99 L677.09,40.19 L674.29,38.09Z" fill="#6ee050"/>
<path d="M662.39,43.69 L665.89,42.99 L668.69,45.09 L670.79,48.59 L670.79,52.09 L669.39,54.54 L665.89,55.59 L662.39,54.19 L660.99,51.39 L661.69,47.19Z" fill="#f0e028"/>
<path d="M661.69,42.64 L664.14,42.64 L664.14,44.74 L661.69,44.74Z" fill="#f07a1a"/>
<path d="M668.69,51.39 L671.14,51.39 L671.14,53.84 L668.69,53.84Z" fill="#f07a1a"/>
<path d="M658.54,54.89 L661.69,54.89 L661.69,57.69 L658.54,57.69Z" fill="#f07a1a"/>
<path d="M681.64,42.29 L683.74,42.29 L683.74,44.74 L681.64,44.74Z" fill="#f07a1a"/>
<path d="M665.19,47.89 L667.29,47.89 L667.29,49.99 L665.19,49.99Z" fill="#f07a1a"/>
<path d="M671.84,37.74 L674.29,39.14 L677.09,41.94 L680.24,44.39 L681.99,45.79 L679.19,46.49 L677.09,44.74 L674.29,42.64 L672.33,40.19Z" fill="#fff"/>
<path d="M657.14,48.59 L659.24,47.89 L660.29,49.99 L659.24,52.09 L657.84,51.74Z" fill="#fff"/>
<path d="M653.5,35.5 L655,35 L655.6,37.3 L654,37.6 Z" fill="#2f6ff0"/>
<text x="699.3" y="33.4" transform="translate(699.3,0) scale(0.72,1) translate(-699.3,0)" style="font-family:'Liberation Sans',sans-serif;font-size:18.5px;fill:#222">Grupo de</text>
<text x="699.3" y="49.6" transform="translate(699.3,0) scale(0.73,1) translate(-699.3,0)" style="font-family:'Liberation Sans',sans-serif;font-size:18.5px;fill:#222">Usuarios</text>
<text x="699.5" y="64.2" transform="translate(699.5,0) scale(0.78,1) translate(-699.5,0)" style="font-family:'Liberation Sans',sans-serif;font-weight:bold;font-size:16.2px;fill:#000;stroke:#000;stroke-width:0.7">WRF</text>
</g>
</svg>
</body></html>
